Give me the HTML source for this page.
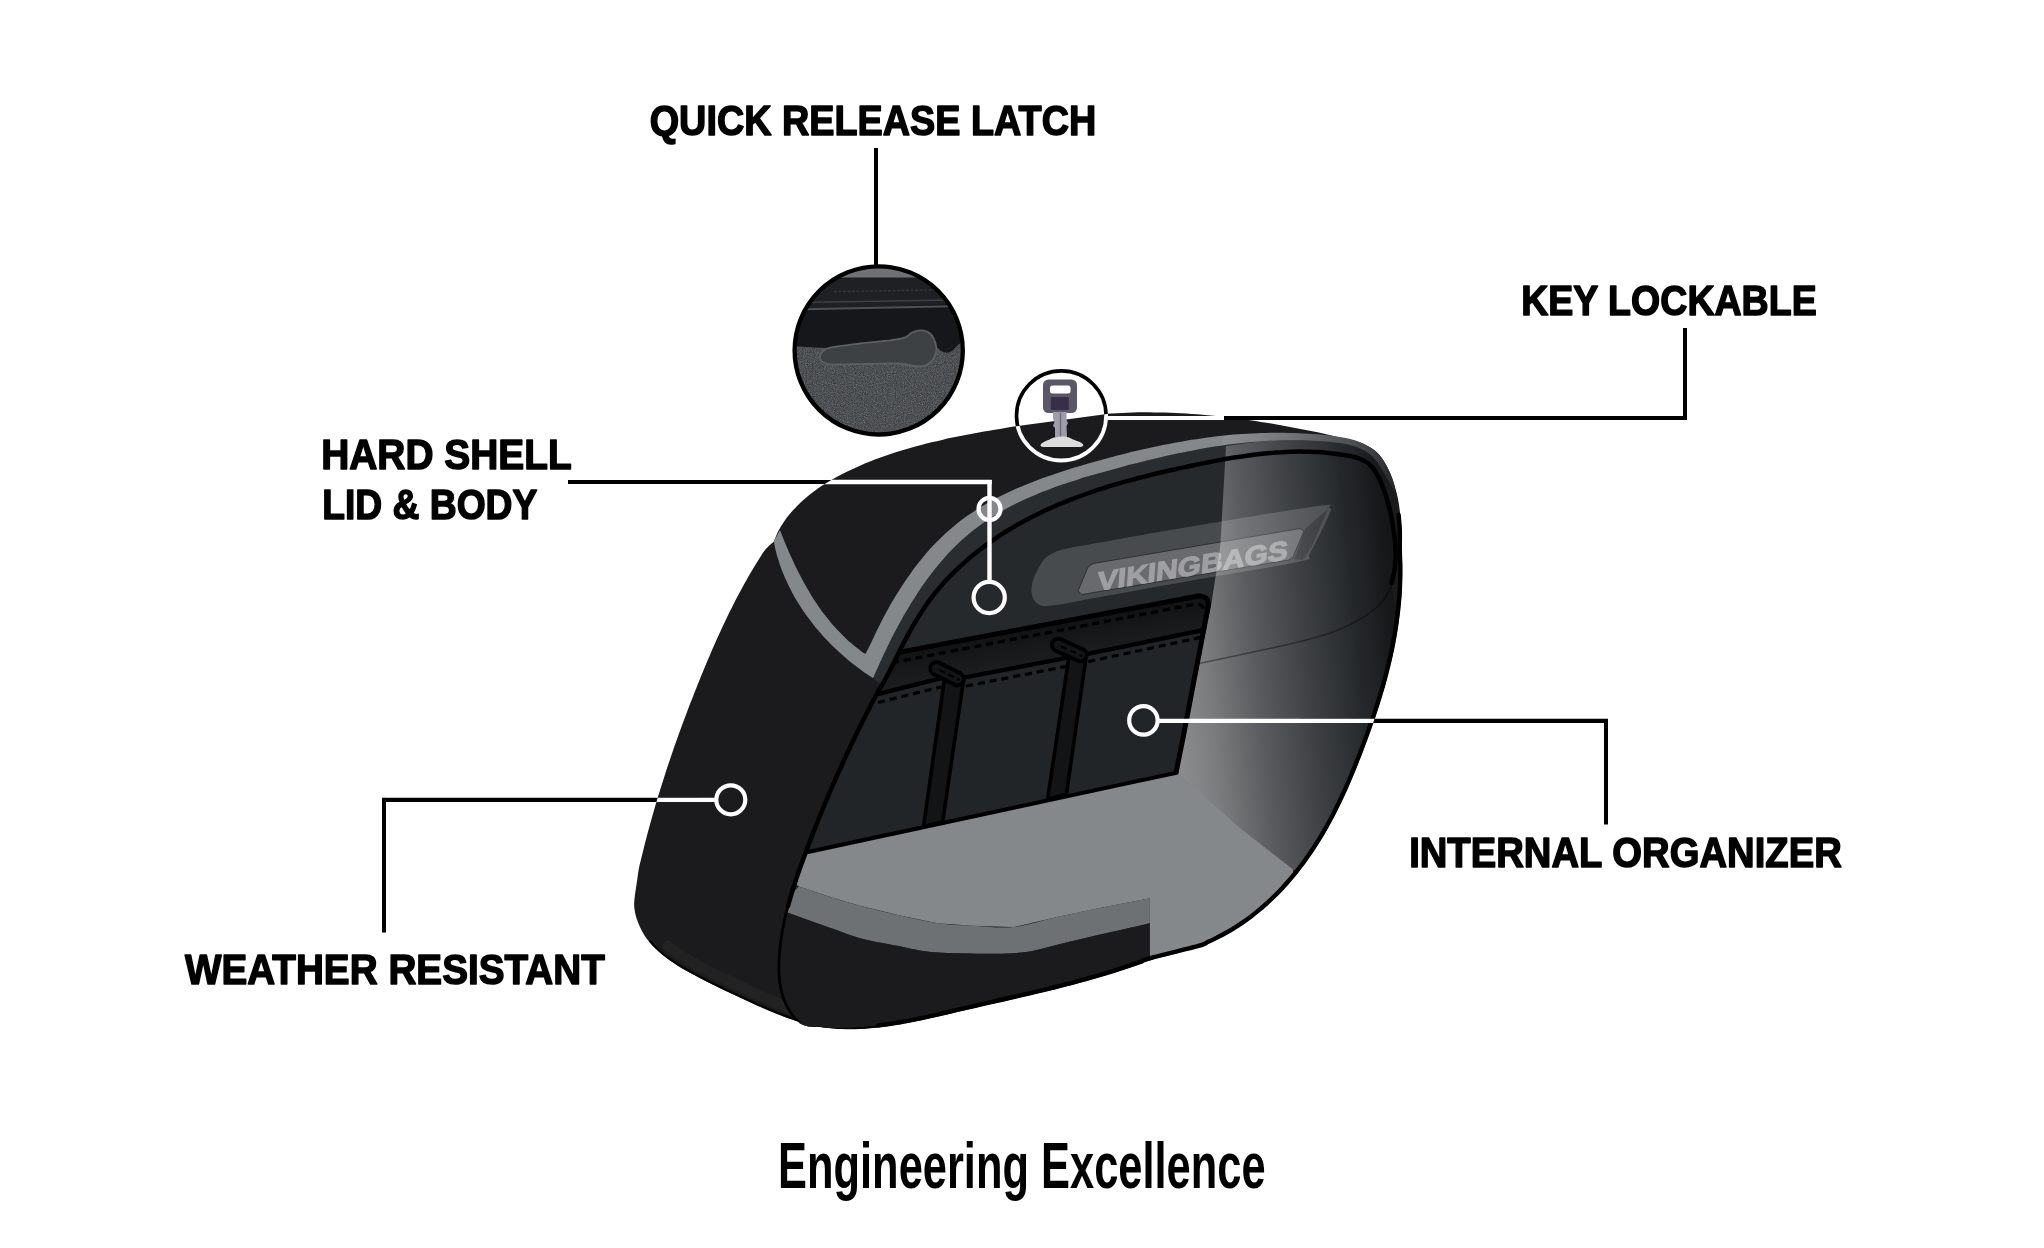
<!DOCTYPE html>
<html lang="en"><head><meta charset="utf-8"><title>Engineering Excellence</title>
<style>
html,body{margin:0;padding:0;background:#fff;}
body{width:2044px;height:1248px;overflow:hidden;font-family:"Liberation Sans",sans-serif;}
svg{display:block;will-change:transform;}
</style></head><body>
<svg width="2044" height="1248" viewBox="0 0 2044 1248">
<defs>
<linearGradient id="pw" gradientUnits="userSpaceOnUse" x1="1170" y1="700" x2="1420" y2="675">
<stop offset="0" stop-color="#fff" stop-opacity="0.47"/><stop offset="0.156" stop-color="#fff" stop-opacity="0.39"/><stop offset="0.352" stop-color="#fff" stop-opacity="0.238"/><stop offset="0.548" stop-color="#fff" stop-opacity="0.117"/><stop offset="0.704" stop-color="#fff" stop-opacity="0.033"/><stop offset="0.763" stop-color="#fff" stop-opacity="0"/>
</linearGradient>
<linearGradient id="pb" gradientUnits="userSpaceOnUse" x1="1170" y1="700" x2="1420" y2="675">
<stop offset="0.74" stop-color="#000" stop-opacity="0"/><stop offset="0.82" stop-color="#000" stop-opacity="0.15"/><stop offset="0.9" stop-color="#000" stop-opacity="0.41"/><stop offset="0.98" stop-color="#000" stop-opacity="0.51"/>
</linearGradient>
<linearGradient id="stripefade" gradientUnits="userSpaceOnUse" x1="1226" y1="430" x2="1396" y2="480">
<stop offset="0" stop-color="#84888b"/><stop offset="0.001" stop-color="#8a8e91"/><stop offset="0.2" stop-color="#7f8386"/><stop offset="0.376" stop-color="#6e7275"/><stop offset="0.553" stop-color="#5c5f62"/><stop offset="0.706" stop-color="#4c4f52"/><stop offset="0.847" stop-color="#3a3c3f"/><stop offset="0.965" stop-color="#292b2d"/>
</linearGradient>
<linearGradient id="flapg" gradientUnits="userSpaceOnUse" x1="1040" y1="615" x2="1048" y2="660">
<stop offset="0" stop-color="#0e0f10"/><stop offset="1" stop-color="#1b1d1f"/>
</linearGradient>
<clipPath id="bagclip"><path d="M774.0 541.0 C775.2 538.8 776.7 534.3 778.3 531.1 C779.9 527.9 781.8 524.8 783.8 521.9 C785.7 519.0 787.9 516.2 790.2 513.5 C792.4 510.8 794.9 508.2 797.3 505.7 C799.8 503.2 802.4 500.8 805.1 498.4 C807.8 496.1 810.6 493.9 813.5 491.8 C816.3 489.6 819.3 487.6 822.2 485.6 C825.2 483.7 828.3 481.8 831.4 479.9 C834.5 478.1 837.7 476.4 840.9 474.7 C844.1 473.0 847.4 471.4 850.6 469.9 C853.9 468.3 857.2 466.9 860.5 465.4 C863.8 464.0 867.1 462.6 870.5 461.3 C873.8 460.0 877.1 458.7 880.5 457.5 C883.9 456.3 887.2 455.1 890.6 454.0 C894.0 452.8 897.4 451.7 900.8 450.7 C904.2 449.6 907.6 448.6 911.0 447.7 C914.4 446.7 917.9 445.8 921.3 444.9 C924.8 444.0 928.2 443.1 931.7 442.3 C935.1 441.5 938.6 440.7 942.0 439.9 C945.5 439.1 949.0 438.3 952.5 437.6 C956.0 436.9 959.5 436.2 963.0 435.5 C966.5 434.8 970.0 434.1 973.5 433.5 C977.0 432.8 980.5 432.2 984.0 431.6 C987.5 430.9 991.0 430.3 994.6 429.7 C998.1 429.1 1001.6 428.5 1005.1 427.9 C1008.7 427.3 1012.2 426.7 1015.7 426.2 C1019.3 425.6 1022.8 425.0 1026.3 424.4 C1029.9 423.8 1033.4 423.2 1037.0 422.7 C1040.5 422.1 1044.0 421.5 1047.6 421.0 C1051.1 420.5 1054.7 419.9 1058.2 419.4 C1061.8 418.9 1065.3 418.4 1068.9 417.9 C1072.4 417.4 1076.0 417.0 1079.5 416.6 C1083.1 416.1 1086.6 415.7 1090.2 415.3 C1093.7 415.0 1097.3 414.6 1100.8 414.3 C1104.4 414.0 1108.0 413.7 1111.5 413.5 C1115.1 413.3 1118.7 413.1 1122.2 412.9 C1125.8 412.7 1129.3 412.6 1132.9 412.5 C1136.5 412.4 1140.0 412.4 1143.6 412.3 C1147.2 412.3 1150.8 412.3 1154.3 412.4 C1157.9 412.4 1161.5 412.5 1165.0 412.6 C1168.6 412.7 1172.2 412.8 1175.7 413.0 C1179.3 413.1 1182.9 413.3 1186.4 413.5 C1190.0 413.8 1193.5 414.0 1197.1 414.3 C1200.7 414.6 1204.2 414.9 1207.8 415.2 C1211.3 415.5 1214.9 415.9 1218.5 416.2 C1222.0 416.6 1225.6 417.0 1229.1 417.4 C1232.7 417.9 1236.2 418.3 1239.7 418.8 C1243.3 419.3 1246.8 419.8 1250.3 420.3 C1253.9 420.8 1257.4 421.3 1260.9 421.9 C1264.5 422.4 1268.0 423.0 1271.5 423.6 C1275.0 424.2 1278.6 424.8 1282.1 425.4 C1285.6 426.0 1289.1 426.7 1292.6 427.4 C1296.1 428.0 1299.6 428.7 1303.1 429.4 C1306.6 430.1 1310.1 430.8 1313.6 431.6 C1317.1 432.3 1320.6 433.1 1324.1 433.8 C1327.6 434.6 1331.1 435.4 1334.6 436.2 C1338.1 437.0 1341.6 437.7 1345.1 438.6 C1348.6 439.4 1352.1 440.2 1355.5 441.2 C1358.9 442.2 1362.3 443.3 1365.4 444.7 C1368.6 446.2 1371.6 447.8 1374.3 450.0 C1377.1 452.1 1379.5 454.8 1381.7 457.7 C1383.9 460.6 1385.8 464.1 1387.5 467.5 C1389.2 470.8 1390.7 474.4 1392.0 477.8 C1393.3 481.2 1394.4 484.6 1395.3 487.9 C1396.3 491.3 1397.1 494.7 1397.8 498.1 C1398.5 501.5 1399.0 504.9 1399.5 508.4 C1400.0 511.8 1400.4 515.3 1400.7 518.9 C1401.0 522.5 1401.4 525.7 1401.5 530.0 C1401.6 534.3 1401.6 540.8 1401.6 545.0 C1401.6 549.2 1401.6 551.7 1401.7 555.1 C1401.8 558.5 1402.0 561.9 1402.1 565.3 C1402.1 568.7 1402.1 572.1 1402.1 575.5 C1402.0 578.9 1402.0 582.2 1401.8 585.6 C1401.7 589.0 1401.5 592.3 1401.3 595.7 C1401.0 599.0 1400.8 602.4 1400.4 605.7 C1400.1 609.0 1399.8 612.4 1399.3 615.7 C1398.9 619.0 1398.5 622.3 1398.0 625.6 C1397.5 628.9 1397.0 632.2 1396.4 635.5 C1395.9 638.8 1395.2 642.1 1394.6 645.4 C1394.0 648.7 1393.3 651.9 1392.6 655.2 C1391.9 658.5 1391.1 661.7 1390.3 665.0 C1389.5 668.2 1388.7 671.4 1387.9 674.7 C1387.0 677.9 1386.2 681.1 1385.3 684.4 C1384.4 687.6 1383.4 690.8 1382.5 694.0 C1381.5 697.2 1380.5 700.4 1379.5 703.6 C1378.5 706.8 1377.5 710.0 1376.4 713.2 C1375.3 716.4 1374.3 719.6 1373.2 722.7 C1372.1 725.9 1370.9 729.1 1369.8 732.3 C1368.7 735.4 1367.5 738.6 1366.3 741.7 C1365.2 744.9 1364.0 748.0 1362.8 751.2 C1361.6 754.3 1360.4 757.5 1359.1 760.6 C1357.9 763.8 1356.7 766.9 1355.4 770.0 C1354.1 773.1 1352.8 776.2 1351.5 779.3 C1350.2 782.4 1348.9 785.5 1347.5 788.6 C1346.1 791.7 1344.7 794.8 1343.3 797.8 C1341.9 800.9 1340.4 803.9 1338.9 806.9 C1337.4 809.9 1335.9 812.9 1334.4 815.9 C1332.8 818.9 1331.2 821.9 1329.6 824.8 C1327.9 827.8 1326.3 830.7 1324.6 833.6 C1322.8 836.5 1321.1 839.4 1319.3 842.2 C1317.5 845.1 1315.7 847.9 1313.9 850.7 C1312.0 853.5 1310.1 856.3 1308.1 859.0 C1306.2 861.7 1304.2 864.4 1302.2 867.1 C1300.2 869.7 1298.1 872.4 1296.0 875.0 C1293.9 877.5 1291.7 880.1 1289.5 882.6 C1287.3 885.1 1285.1 887.6 1282.8 890.0 C1280.5 892.4 1278.2 894.8 1275.8 897.1 C1273.4 899.5 1271.0 901.7 1268.5 904.0 C1266.1 906.2 1263.6 908.4 1261.0 910.5 C1258.4 912.7 1255.8 914.7 1253.2 916.8 C1250.5 918.8 1247.8 920.8 1245.0 922.7 C1242.3 924.6 1239.5 926.4 1236.6 928.2 C1233.7 930.0 1230.8 931.8 1227.9 933.4 C1224.9 935.1 1221.9 936.7 1218.8 938.2 C1215.8 939.8 1212.6 941.3 1209.5 942.6 C1206.4 944.0 1210.1 943.6 1200.2 946.5 C1190.3 949.4 1159.9 957.5 1150.1 960.3 C1140.3 963.1 1144.4 962.5 1141.4 963.6 C1138.5 964.6 1135.5 965.7 1132.5 966.7 C1129.5 967.7 1126.6 968.7 1123.6 969.7 C1120.6 970.7 1117.6 971.6 1114.7 972.6 C1111.7 973.5 1108.7 974.4 1105.8 975.3 C1102.8 976.2 1099.8 977.1 1096.9 977.9 C1093.9 978.8 1090.9 979.7 1087.9 980.5 C1085.0 981.3 1082.0 982.1 1079.0 982.9 C1076.1 983.8 1073.1 984.5 1070.1 985.3 C1067.1 986.1 1064.2 986.9 1061.2 987.6 C1058.2 988.4 1055.2 989.1 1052.2 989.9 C1049.3 990.6 1046.3 991.3 1043.3 992.1 C1040.3 992.8 1037.3 993.5 1034.3 994.2 C1031.3 994.9 1028.3 995.6 1025.3 996.3 C1022.3 997.0 1019.3 997.7 1016.3 998.4 C1013.3 999.1 1010.3 999.8 1007.3 1000.5 C1004.3 1001.2 1001.3 1001.9 998.3 1002.5 C995.2 1003.2 992.2 1003.9 989.2 1004.6 C986.2 1005.3 983.1 1006.0 980.1 1006.7 C977.0 1007.4 974.0 1008.1 970.9 1008.8 C967.9 1009.5 964.8 1010.2 961.8 1010.9 C958.7 1011.6 955.7 1012.3 952.6 1013.0 C949.5 1013.8 946.4 1014.5 943.4 1015.2 C940.3 1015.9 937.2 1016.6 934.1 1017.3 C931.0 1018.0 927.9 1018.7 924.8 1019.4 C921.7 1020.1 918.7 1020.7 915.6 1021.3 C912.5 1022.0 909.4 1022.6 906.3 1023.2 C903.2 1023.7 900.1 1024.3 897.0 1024.8 C893.9 1025.3 890.8 1025.8 887.7 1026.3 C884.7 1026.7 881.6 1027.1 878.5 1027.4 C875.4 1027.8 872.3 1028.1 869.3 1028.3 C866.2 1028.6 863.1 1028.8 860.1 1028.9 C857.0 1029.1 854.0 1029.2 850.9 1029.2 C847.9 1029.2 844.8 1029.1 841.8 1029.0 C838.8 1028.9 835.8 1028.7 832.8 1028.4 C829.7 1028.2 826.7 1027.8 823.7 1027.4 C820.8 1026.9 817.8 1026.4 814.8 1025.8 C811.8 1025.2 808.9 1024.5 805.9 1023.8 C803.0 1023.0 800.0 1022.1 797.1 1021.2 C794.2 1020.3 791.3 1019.3 788.3 1018.3 C785.4 1017.3 782.5 1016.2 779.6 1015.0 C776.7 1013.9 773.8 1012.7 771.0 1011.5 C768.1 1010.3 765.2 1009.0 762.3 1007.7 C759.5 1006.5 756.6 1005.2 753.7 1003.9 C750.9 1002.6 748.0 1001.2 745.1 999.9 C742.3 998.6 739.4 997.3 736.6 996.0 C733.7 994.6 730.8 993.3 728.0 992.0 C725.2 990.6 722.3 989.3 719.5 987.9 C716.6 986.5 713.8 985.2 711.0 983.8 C708.2 982.4 705.4 981.0 702.6 979.5 C699.8 978.1 697.0 976.6 694.2 975.1 C691.4 973.6 688.7 972.1 685.9 970.5 C683.2 969.0 680.5 967.4 677.8 965.7 C675.2 964.0 672.6 962.3 670.1 960.6 C667.6 958.8 665.1 956.9 662.7 955.0 C660.4 953.1 658.1 951.1 656.0 949.0 C653.8 947.0 651.8 944.8 649.9 942.5 C648.0 940.3 646.2 937.9 644.5 935.4 C642.9 932.9 641.4 930.4 640.2 927.6 C638.9 924.9 637.7 922.1 636.8 919.1 C635.9 916.2 635.0 913.0 634.6 909.8 C634.2 906.6 633.9 905.4 634.4 900.0 C634.9 894.6 636.8 882.9 637.5 877.7 C638.2 872.5 638.3 871.8 638.8 868.9 C639.3 866.0 640.1 863.1 640.8 860.3 C641.5 857.4 642.2 854.6 642.9 851.7 C643.6 848.9 644.3 846.0 645.0 843.2 C645.7 840.4 646.5 837.5 647.2 834.7 C648.0 831.8 648.7 829.0 649.5 826.2 C650.3 823.3 651.1 820.5 651.9 817.7 C652.7 814.8 653.5 812.0 654.3 809.2 C655.1 806.4 656.0 803.6 656.8 800.7 C657.6 797.9 658.5 795.1 659.4 792.3 C660.2 789.5 661.1 786.7 662.0 783.9 C662.9 781.1 663.8 778.2 664.7 775.4 C665.6 772.6 666.5 769.8 667.4 767.0 C668.3 764.3 669.3 761.5 670.2 758.7 C671.2 755.9 672.1 753.1 673.1 750.3 C674.1 747.5 675.0 744.7 676.0 742.0 C677.0 739.2 678.0 736.4 679.0 733.6 C680.0 730.9 681.0 728.1 682.0 725.3 C683.0 722.6 684.1 719.8 685.1 717.0 C686.1 714.3 687.2 711.5 688.2 708.7 C689.3 706.0 690.3 703.2 691.4 700.5 C692.5 697.7 693.6 695.0 694.6 692.2 C695.7 689.5 696.8 686.8 697.9 684.0 C699.0 681.3 700.1 678.6 701.2 675.8 C702.4 673.1 703.5 670.4 704.6 667.6 C705.7 664.9 706.9 662.2 708.0 659.5 C709.2 656.8 710.3 654.1 711.5 651.3 C712.7 648.6 713.8 645.9 715.0 643.2 C716.2 640.6 717.4 637.9 718.6 635.2 C719.9 632.5 721.1 629.8 722.3 627.2 C723.6 624.5 724.8 621.8 726.1 619.2 C727.4 616.5 728.6 613.9 729.9 611.3 C731.3 608.6 732.6 606.0 733.9 603.4 C735.2 600.8 736.6 598.2 738.0 595.6 C739.3 593.0 740.7 590.4 742.1 587.9 C743.5 585.3 744.9 582.7 746.4 580.2 C747.8 577.6 749.3 575.1 750.8 572.6 C752.3 570.1 753.8 567.6 755.3 565.1 C756.9 562.6 758.4 560.1 760.0 557.6 C761.6 555.2 762.9 552.5 764.8 550.3 C766.6 548.0 769.5 545.5 771.0 544.0 C772.5 542.5 772.8 543.2 774.0 541.0Z"/></clipPath>
<clipPath id="faceclip"><path id="facepath" d="M882.0 685.0 C882.7 683.7 885.0 679.9 886.4 677.3 C887.8 674.6 889.0 672.0 890.4 669.3 C891.7 666.7 893.0 664.0 894.4 661.4 C895.7 658.7 897.0 656.0 898.3 653.4 C899.7 650.7 901.0 648.1 902.4 645.5 C903.8 642.8 905.1 640.2 906.5 637.6 C907.9 635.0 909.4 632.4 910.8 629.8 C912.2 627.2 913.7 624.6 915.2 622.1 C916.7 619.5 918.3 617.0 919.9 614.5 C921.4 612.0 923.1 609.5 924.7 607.1 C926.4 604.6 928.1 602.2 929.9 599.8 C931.6 597.4 933.4 595.1 935.3 592.8 C937.2 590.5 939.1 588.2 941.0 585.9 C943.0 583.7 945.0 581.5 947.0 579.3 C949.1 577.1 951.2 575.0 953.3 572.9 C955.4 570.7 957.6 568.7 959.8 566.6 C962.0 564.6 964.2 562.6 966.5 560.6 C968.7 558.7 971.0 556.7 973.4 554.8 C975.7 553.0 978.0 551.1 980.4 549.3 C982.8 547.5 985.2 545.7 987.6 543.9 C990.0 542.2 992.4 540.5 994.9 538.8 C997.3 537.2 999.8 535.5 1002.3 533.9 C1004.8 532.3 1007.3 530.8 1009.8 529.3 C1012.3 527.7 1014.9 526.2 1017.4 524.8 C1020.0 523.3 1022.6 521.9 1025.2 520.5 C1027.8 519.1 1030.4 517.8 1033.0 516.4 C1035.6 515.1 1038.3 513.8 1040.9 512.5 C1043.6 511.2 1046.2 510.0 1048.9 508.8 C1051.6 507.6 1054.3 506.4 1057.0 505.2 C1059.7 504.1 1062.4 502.9 1065.2 501.8 C1067.9 500.7 1070.6 499.6 1073.4 498.6 C1076.2 497.5 1078.9 496.5 1081.7 495.5 C1084.5 494.5 1087.3 493.5 1090.1 492.5 C1092.9 491.6 1095.7 490.6 1098.5 489.7 C1101.3 488.8 1104.2 487.9 1107.0 487.0 C1109.8 486.1 1112.7 485.3 1115.5 484.4 C1118.4 483.6 1121.2 482.7 1124.1 481.9 C1127.0 481.1 1129.9 480.3 1132.7 479.6 C1135.6 478.8 1138.5 478.0 1141.4 477.3 C1144.3 476.5 1147.2 475.8 1150.1 475.1 C1153.0 474.4 1155.9 473.7 1158.8 473.0 C1161.7 472.3 1164.7 471.6 1167.6 470.9 C1170.5 470.3 1173.4 469.6 1176.3 469.0 C1179.3 468.3 1182.2 467.7 1185.1 467.1 C1188.1 466.4 1191.0 465.8 1193.9 465.2 C1196.9 464.6 1199.8 464.0 1202.7 463.4 C1205.7 462.8 1208.6 462.2 1211.6 461.6 C1214.5 461.1 1217.4 460.5 1220.4 460.0 C1223.3 459.4 1226.3 458.9 1229.2 458.4 C1232.1 457.9 1235.1 457.4 1238.0 457.0 C1241.0 456.5 1243.9 456.1 1246.9 455.7 C1249.8 455.3 1252.7 454.9 1255.7 454.5 C1258.6 454.2 1261.6 453.9 1264.5 453.6 C1267.5 453.3 1270.4 453.0 1273.4 452.8 C1276.3 452.5 1279.2 452.3 1282.2 452.2 C1285.1 452.0 1288.1 451.9 1291.0 451.8 C1294.0 451.7 1296.9 451.6 1299.9 451.6 C1302.8 451.6 1305.7 451.7 1308.7 451.7 C1311.6 451.8 1314.6 451.9 1317.5 452.1 C1320.5 452.3 1323.4 452.5 1326.3 452.8 C1329.3 453.0 1332.2 453.4 1335.1 453.7 C1338.1 454.1 1341.0 454.5 1343.9 455.0 C1346.9 455.5 1349.9 455.9 1352.7 456.7 C1355.5 457.4 1358.4 458.1 1361.0 459.2 C1363.6 460.4 1366.1 461.7 1368.4 463.4 C1370.6 465.2 1372.5 467.4 1374.3 469.9 C1376.0 472.3 1377.5 475.2 1378.9 478.0 C1380.3 480.7 1381.5 483.7 1382.7 486.6 C1383.8 489.4 1384.9 492.3 1385.8 495.2 C1386.8 498.1 1387.6 501.0 1388.4 503.9 C1389.2 506.8 1389.9 509.7 1390.5 512.6 C1391.2 515.5 1391.7 518.4 1392.2 521.3 C1392.8 524.3 1393.2 527.2 1393.6 530.1 C1394.1 533.0 1394.4 536.0 1394.7 538.9 C1395.0 541.8 1395.3 544.8 1395.5 547.7 C1395.6 550.7 1395.7 553.6 1395.6 556.6 C1395.6 559.5 1395.4 562.4 1395.1 565.4 C1394.8 568.3 1394.4 571.3 1393.8 574.2 C1393.2 577.2 1392.0 581.5 1391.6 583.0L1397.0 615.2 C1396.2 621.5 1394.2 640.2 1392.0 652.7 C1389.8 665.2 1387.0 678.6 1383.5 690.0 C1380.0 701.4 1374.6 711.9 1370.8 721.3 C1367.0 730.7 1364.5 736.6 1360.8 746.4 C1357.0 756.2 1352.5 769.6 1348.3 780.2 C1344.1 790.8 1339.5 801.9 1335.8 810.2 C1332.1 818.5 1330.1 823.0 1326.0 830.0 C1321.9 837.0 1316.6 844.8 1311.0 852.5 C1305.4 860.2 1298.5 869.2 1292.3 876.5 C1286.0 883.8 1280.7 889.4 1273.5 896.0 C1266.3 902.6 1257.2 909.8 1249.0 916.0 C1240.8 922.2 1232.2 928.8 1224.0 933.5 C1215.8 938.2 1211.8 940.4 1199.5 944.5 C1187.2 948.6 1164.0 953.9 1150.1 958.3 C1136.2 962.7 1124.3 968.0 1116.0 970.7 C1107.7 973.4 1109.3 972.0 1100.0 974.5 C1090.7 977.0 1075.4 981.8 1060.4 985.7 C1045.5 989.7 1027.0 994.2 1010.3 998.2 C993.6 1002.2 976.9 1006.0 960.2 1009.5 C943.5 1013.0 924.1 1016.9 910.1 1019.5 C896.1 1022.1 884.7 1023.8 876.0 1025.1 C867.3 1026.3 865.2 1026.6 858.0 1027.0 C850.8 1027.4 840.2 1027.6 832.9 1027.6 C825.6 1027.6 817.2 1027.1 814.1 1027.0L807.9 1026.5 C806.8 1026.1 803.0 1025.2 801.0 1024.1 C799.1 1022.9 797.7 1021.0 796.2 1019.4 C794.7 1017.8 793.3 1016.2 792.0 1014.5 C790.7 1012.7 789.6 1011.0 788.5 1009.1 C787.4 1007.3 786.5 1005.5 785.6 1003.5 C784.8 1001.6 784.0 999.7 783.3 997.7 C782.7 995.7 782.1 993.6 781.6 991.6 C781.1 989.5 780.6 987.4 780.3 985.3 C779.9 983.1 779.7 981.0 779.4 978.8 C779.2 976.6 779.1 974.4 779.0 972.2 C778.9 970.0 778.9 967.8 778.9 965.6 C778.9 963.3 779.0 961.1 779.1 958.9 C779.2 956.6 779.4 954.4 779.6 952.1 C779.8 949.9 780.0 947.7 780.3 945.4 C780.5 943.2 780.8 941.0 781.1 938.8 C781.5 936.5 781.8 934.3 782.2 932.1 C782.6 929.9 783.0 927.7 783.4 925.5 C783.9 923.3 784.4 921.1 784.8 918.9 C785.3 916.7 785.8 914.6 786.4 912.4 C786.9 910.2 787.5 908.0 788.1 905.9 C788.6 903.7 789.2 901.5 789.9 899.4 C790.5 897.2 791.1 895.1 791.8 892.9 C792.4 890.8 793.1 888.6 793.8 886.5 C794.5 884.3 795.2 882.2 795.9 880.1 C796.6 877.9 797.3 875.8 798.0 873.7 C798.8 871.6 799.5 869.4 800.3 867.3 C801.0 865.2 801.8 863.1 802.6 861.0 C803.3 858.9 804.1 856.8 804.9 854.7 C805.7 852.6 806.5 850.5 807.2 848.4 C808.0 846.3 808.8 844.2 809.6 842.1 C810.4 840.1 811.2 838.0 812.0 835.9 C812.8 833.8 813.6 831.7 814.5 829.7 C815.3 827.6 816.1 825.5 816.9 823.5 C817.7 821.4 818.6 819.4 819.4 817.3 C820.2 815.3 821.1 813.2 821.9 811.2 C822.7 809.1 823.6 807.1 824.4 805.0 C825.3 803.0 826.1 800.9 827.0 798.9 C827.9 796.9 828.7 794.8 829.6 792.8 C830.5 790.8 831.3 788.7 832.2 786.7 C833.1 784.7 834.0 782.7 834.9 780.6 C835.8 778.6 836.6 776.6 837.5 774.6 C838.4 772.6 839.3 770.5 840.3 768.5 C841.2 766.5 842.1 764.5 843.0 762.5 C843.9 760.5 844.8 758.5 845.8 756.5 C846.7 754.5 847.6 752.5 848.6 750.5 C849.5 748.5 850.5 746.4 851.4 744.4 C852.4 742.4 853.3 740.4 854.3 738.4 C855.2 736.5 856.2 734.5 857.2 732.5 C858.2 730.5 859.1 728.5 860.1 726.5 C861.1 724.5 862.1 722.5 863.1 720.5 C864.1 718.5 865.1 716.5 866.1 714.5 C867.1 712.5 868.1 710.5 869.2 708.5 C870.2 706.5 871.2 704.6 872.2 702.6 C873.3 700.6 874.3 698.6 875.4 696.6 C876.4 694.6 877.4 692.6 878.5 690.6 C879.6 688.7 881.4 685.9 882.0 685.0Z"/></clipPath>
<filter id="grain" x="0" y="0" width="100%" height="100%"><feTurbulence type="fractalNoise" baseFrequency="0.9" numOctaves="2" seed="3" result="n"/><feColorMatrix in="n" type="matrix" values="0 0 0 0 0.5  0 0 0 0 0.52  0 0 0 0 0.54  0.9 0.9 0.9 0 -1.0"/></filter>
<clipPath id="latchclip"><circle cx="878.7" cy="350.4" r="84.2"/></clipPath>
<clipPath id="keyclip"><circle cx="1061.3" cy="415.7" r="44.8"/></clipPath>
<clipPath id="panelshape"><path d="M882.0 685.0 C882.7 683.7 885.0 679.9 886.4 677.3 C887.8 674.6 889.0 672.0 890.4 669.3 C891.7 666.7 893.0 664.0 894.4 661.4 C895.7 658.7 897.0 656.0 898.3 653.4 C899.7 650.7 901.0 648.1 902.4 645.5 C903.8 642.8 905.1 640.2 906.5 637.6 C907.9 635.0 909.4 632.4 910.8 629.8 C912.2 627.2 913.7 624.6 915.2 622.1 C916.7 619.5 918.3 617.0 919.9 614.5 C921.4 612.0 923.1 609.5 924.7 607.1 C926.4 604.6 928.1 602.2 929.9 599.8 C931.6 597.4 933.4 595.1 935.3 592.8 C937.2 590.5 939.1 588.2 941.0 585.9 C943.0 583.7 945.0 581.5 947.0 579.3 C949.1 577.1 951.2 575.0 953.3 572.9 C955.4 570.7 957.6 568.7 959.8 566.6 C962.0 564.6 964.2 562.6 966.5 560.6 C968.7 558.7 971.0 556.7 973.4 554.8 C975.7 553.0 978.0 551.1 980.4 549.3 C982.8 547.5 985.2 545.7 987.6 543.9 C990.0 542.2 992.4 540.5 994.9 538.8 C997.3 537.2 999.8 535.5 1002.3 533.9 C1004.8 532.3 1007.3 530.8 1009.8 529.3 C1012.3 527.7 1014.9 526.2 1017.4 524.8 C1020.0 523.3 1022.6 521.9 1025.2 520.5 C1027.8 519.1 1030.4 517.8 1033.0 516.4 C1035.6 515.1 1038.3 513.8 1040.9 512.5 C1043.6 511.2 1046.2 510.0 1048.9 508.8 C1051.6 507.6 1054.3 506.4 1057.0 505.2 C1059.7 504.1 1062.4 502.9 1065.2 501.8 C1067.9 500.7 1070.6 499.6 1073.4 498.6 C1076.2 497.5 1078.9 496.5 1081.7 495.5 C1084.5 494.5 1087.3 493.5 1090.1 492.5 C1092.9 491.6 1095.7 490.6 1098.5 489.7 C1101.3 488.8 1104.2 487.9 1107.0 487.0 C1109.8 486.1 1112.7 485.3 1115.5 484.4 C1118.4 483.6 1121.2 482.7 1124.1 481.9 C1127.0 481.1 1129.9 480.3 1132.7 479.6 C1135.6 478.8 1138.5 478.0 1141.4 477.3 C1144.3 476.5 1147.2 475.8 1150.1 475.1 C1153.0 474.4 1155.9 473.7 1158.8 473.0 C1161.7 472.3 1164.7 471.6 1167.6 470.9 C1170.5 470.3 1173.4 469.6 1176.3 469.0 C1179.3 468.3 1182.2 467.7 1185.1 467.1 C1188.1 466.4 1191.0 465.8 1193.9 465.2 C1196.9 464.6 1199.8 464.0 1202.7 463.4 C1205.7 462.8 1208.6 462.2 1211.6 461.6 C1214.5 461.1 1217.4 460.5 1220.4 460.0 C1223.3 459.4 1226.3 458.9 1229.2 458.4 C1232.1 457.9 1235.1 457.4 1238.0 457.0 C1241.0 456.5 1243.9 456.1 1246.9 455.7 C1249.8 455.3 1252.7 454.9 1255.7 454.5 C1258.6 454.2 1261.6 453.9 1264.5 453.6 C1267.5 453.3 1270.4 453.0 1273.4 452.8 C1276.3 452.5 1279.2 452.3 1282.2 452.2 C1285.1 452.0 1288.1 451.9 1291.0 451.8 C1294.0 451.7 1296.9 451.6 1299.9 451.6 C1302.8 451.6 1305.7 451.7 1308.7 451.7 C1311.6 451.8 1314.6 451.9 1317.5 452.1 C1320.5 452.3 1323.4 452.5 1326.3 452.8 C1329.3 453.0 1332.2 453.4 1335.1 453.7 C1338.1 454.1 1341.0 454.5 1343.9 455.0 C1346.9 455.5 1349.9 455.9 1352.7 456.7 C1355.5 457.4 1358.4 458.1 1361.0 459.2 C1363.6 460.4 1366.1 461.7 1368.4 463.4 C1370.6 465.2 1372.5 467.4 1374.3 469.9 C1376.0 472.3 1377.5 475.2 1378.9 478.0 C1380.3 480.7 1381.5 483.7 1382.7 486.6 C1383.8 489.4 1384.9 492.3 1385.8 495.2 C1386.8 498.1 1387.6 501.0 1388.4 503.9 C1389.2 506.8 1389.9 509.7 1390.5 512.6 C1391.2 515.5 1391.7 518.4 1392.2 521.3 C1392.8 524.3 1393.2 527.2 1393.6 530.1 C1394.1 533.0 1394.4 536.0 1394.7 538.9 C1395.0 541.8 1395.3 544.8 1395.5 547.7 C1395.6 550.7 1395.7 553.6 1395.6 556.6 C1395.6 559.5 1395.4 562.4 1395.1 565.4 C1394.8 568.3 1394.4 571.3 1393.8 574.2 C1393.2 577.2 1392.0 581.5 1391.6 583.0L1397.0 615.2 C1396.2 621.5 1394.2 640.2 1392.0 652.7 C1389.8 665.2 1387.0 678.6 1383.5 690.0 C1380.0 701.4 1374.6 711.9 1370.8 721.3 C1367.0 730.7 1364.5 736.6 1360.8 746.4 C1357.0 756.2 1352.5 769.6 1348.3 780.2 C1344.1 790.8 1339.5 801.9 1335.8 810.2 C1332.1 818.5 1330.1 823.0 1326.0 830.0 C1321.9 837.0 1316.6 844.8 1311.0 852.5 C1305.4 860.2 1298.5 869.2 1292.3 876.5 C1286.0 883.8 1280.7 889.4 1273.5 896.0 C1266.3 902.6 1257.2 909.8 1249.0 916.0 C1240.8 922.2 1232.2 928.8 1224.0 933.5 C1215.8 938.2 1211.8 940.4 1199.5 944.5 C1187.2 948.6 1164.0 953.9 1150.1 958.3 C1136.2 962.7 1124.3 968.0 1116.0 970.7 C1107.7 973.4 1109.3 972.0 1100.0 974.5 C1090.7 977.0 1075.4 981.8 1060.4 985.7 C1045.5 989.7 1027.0 994.2 1010.3 998.2 C993.6 1002.2 976.9 1006.0 960.2 1009.5 C943.5 1013.0 924.1 1016.9 910.1 1019.5 C896.1 1022.1 884.7 1023.8 876.0 1025.1 C867.3 1026.3 865.2 1026.6 858.0 1027.0 C850.8 1027.4 840.2 1027.6 832.9 1027.6 C825.6 1027.6 817.2 1027.1 814.1 1027.0L807.9 1026.5 C806.8 1026.1 803.0 1025.2 801.0 1024.1 C799.1 1022.9 797.7 1021.0 796.2 1019.4 C794.7 1017.8 793.3 1016.2 792.0 1014.5 C790.7 1012.7 789.6 1011.0 788.5 1009.1 C787.4 1007.3 786.5 1005.5 785.6 1003.5 C784.8 1001.6 784.0 999.7 783.3 997.7 C782.7 995.7 782.1 993.6 781.6 991.6 C781.1 989.5 780.6 987.4 780.3 985.3 C779.9 983.1 779.7 981.0 779.4 978.8 C779.2 976.6 779.1 974.4 779.0 972.2 C778.9 970.0 778.9 967.8 778.9 965.6 C778.9 963.3 779.0 961.1 779.1 958.9 C779.2 956.6 779.4 954.4 779.6 952.1 C779.8 949.9 780.0 947.7 780.3 945.4 C780.5 943.2 780.8 941.0 781.1 938.8 C781.5 936.5 781.8 934.3 782.2 932.1 C782.6 929.9 783.0 927.7 783.4 925.5 C783.9 923.3 784.4 921.1 784.8 918.9 C785.3 916.7 785.8 914.6 786.4 912.4 C786.9 910.2 787.5 908.0 788.1 905.9 C788.6 903.7 789.2 901.5 789.9 899.4 C790.5 897.2 791.1 895.1 791.8 892.9 C792.4 890.8 793.1 888.6 793.8 886.5 C794.5 884.3 795.2 882.2 795.9 880.1 C796.6 877.9 797.3 875.8 798.0 873.7 C798.8 871.6 799.5 869.4 800.3 867.3 C801.0 865.2 801.8 863.1 802.6 861.0 C803.3 858.9 804.1 856.8 804.9 854.7 C805.7 852.6 806.5 850.5 807.2 848.4 C808.0 846.3 808.8 844.2 809.6 842.1 C810.4 840.1 811.2 838.0 812.0 835.9 C812.8 833.8 813.6 831.7 814.5 829.7 C815.3 827.6 816.1 825.5 816.9 823.5 C817.7 821.4 818.6 819.4 819.4 817.3 C820.2 815.3 821.1 813.2 821.9 811.2 C822.7 809.1 823.6 807.1 824.4 805.0 C825.3 803.0 826.1 800.9 827.0 798.9 C827.9 796.9 828.7 794.8 829.6 792.8 C830.5 790.8 831.3 788.7 832.2 786.7 C833.1 784.7 834.0 782.7 834.9 780.6 C835.8 778.6 836.6 776.6 837.5 774.6 C838.4 772.6 839.3 770.5 840.3 768.5 C841.2 766.5 842.1 764.5 843.0 762.5 C843.9 760.5 844.8 758.5 845.8 756.5 C846.7 754.5 847.6 752.5 848.6 750.5 C849.5 748.5 850.5 746.4 851.4 744.4 C852.4 742.4 853.3 740.4 854.3 738.4 C855.2 736.5 856.2 734.5 857.2 732.5 C858.2 730.5 859.1 728.5 860.1 726.5 C861.1 724.5 862.1 722.5 863.1 720.5 C864.1 718.5 865.1 716.5 866.1 714.5 C867.1 712.5 868.1 710.5 869.2 708.5 C870.2 706.5 871.2 704.6 872.2 702.6 C873.3 700.6 874.3 698.6 875.4 696.6 C876.4 694.6 877.4 692.6 878.5 690.6 C879.6 688.7 881.4 685.9 882.0 685.0Z"/><path d="M873.1 678.1 C873.7 676.7 875.6 672.4 876.9 669.6 C878.1 666.8 879.3 664.1 880.6 661.3 C881.8 658.5 883.1 655.8 884.4 653.0 C885.8 650.2 887.1 647.4 888.5 644.6 C889.8 641.9 891.2 639.1 892.6 636.3 C894.1 633.5 895.5 630.7 897.0 628.0 C898.5 625.2 900.0 622.4 901.5 619.7 C903.0 617.0 904.6 614.2 906.2 611.5 C907.8 608.8 909.4 606.1 911.0 603.4 C912.7 600.7 914.4 598.0 916.1 595.4 C917.8 592.7 919.5 590.1 921.3 587.5 C923.1 584.9 924.9 582.4 926.8 579.8 C928.6 577.3 930.5 574.8 932.4 572.3 C934.3 569.8 936.3 567.4 938.3 565.0 C940.2 562.6 942.3 560.2 944.3 557.9 C946.4 555.6 948.5 553.3 950.6 551.1 C952.7 548.9 954.9 546.7 957.1 544.5 C959.3 542.4 961.6 540.3 963.9 538.3 C966.2 536.2 968.5 534.3 970.9 532.3 C973.2 530.4 975.6 528.5 978.1 526.7 C980.5 524.9 983.0 523.1 985.5 521.4 C988.0 519.7 990.6 518.0 993.2 516.4 C995.8 514.8 998.4 513.2 1001.0 511.7 C1003.7 510.2 1006.4 508.7 1009.1 507.3 C1011.8 505.8 1014.5 504.4 1017.3 503.1 C1020.0 501.7 1022.8 500.4 1025.6 499.1 C1028.4 497.8 1031.3 496.6 1034.1 495.4 C1037.0 494.2 1039.9 493.0 1042.8 491.8 C1045.7 490.7 1048.6 489.6 1051.5 488.5 C1054.4 487.4 1057.4 486.3 1060.3 485.3 C1063.3 484.3 1066.3 483.3 1069.2 482.3 C1072.2 481.3 1075.2 480.3 1078.2 479.4 C1081.2 478.4 1084.2 477.5 1087.3 476.6 C1090.3 475.7 1093.3 474.8 1096.3 473.9 C1099.4 473.1 1102.4 472.2 1105.4 471.4 C1108.5 470.5 1111.5 469.7 1114.6 468.9 C1117.6 468.0 1120.6 467.2 1123.7 466.4 C1126.7 465.6 1129.8 464.8 1132.8 464.1 C1135.8 463.3 1138.9 462.5 1141.9 461.7 C1144.9 461.0 1148.0 460.2 1151.0 459.5 C1154.1 458.8 1157.1 458.1 1160.1 457.4 C1163.2 456.7 1166.2 456.0 1169.2 455.3 C1172.3 454.6 1175.3 454.0 1178.4 453.3 C1181.4 452.7 1184.4 452.1 1187.5 451.5 C1190.5 450.9 1193.6 450.3 1196.6 449.7 C1199.7 449.2 1202.7 448.6 1205.7 448.1 C1208.8 447.6 1211.8 447.1 1214.9 446.6 C1217.9 446.2 1221.0 445.7 1224.0 445.3 C1227.1 444.8 1230.2 444.4 1233.2 444.1 C1236.3 443.7 1239.3 443.3 1242.4 443.0 C1245.5 442.7 1248.5 442.4 1251.6 442.1 C1254.7 441.8 1257.7 441.6 1260.8 441.4 C1263.9 441.1 1266.9 441.0 1270.0 440.8 C1273.1 440.6 1276.2 440.5 1279.3 440.4 C1282.4 440.3 1285.4 440.3 1288.5 440.2 C1291.6 440.2 1294.7 440.2 1297.8 440.2 C1300.9 440.3 1304.0 440.3 1307.1 440.4 C1310.3 440.6 1313.4 440.7 1316.5 440.9 C1319.6 441.0 1322.7 441.3 1325.8 441.5 C1329.0 441.8 1332.1 442.0 1335.2 442.4 C1338.3 442.8 1341.4 443.2 1344.4 443.8 C1347.5 444.4 1350.5 445.0 1353.3 445.9 C1356.2 446.8 1359.0 447.9 1361.7 449.2 C1364.3 450.5 1366.9 452.0 1369.2 453.8 C1371.6 455.7 1373.8 457.8 1375.8 460.2 C1377.8 462.6 1379.6 465.4 1381.4 468.2 C1383.2 471.0 1384.7 474.0 1386.3 477.0 C1387.9 479.9 1389.4 483.0 1391.0 485.7 C1392.6 488.4 1395.2 491.8 1396.0 493.0L1361.0 459.2 C1359.6 458.8 1355.5 457.4 1352.7 456.7 C1349.9 455.9 1346.9 455.5 1343.9 455.0 C1341.0 454.5 1338.1 454.1 1335.1 453.7 C1332.2 453.4 1329.3 453.0 1326.3 452.8 C1323.4 452.5 1320.5 452.3 1317.5 452.1 C1314.6 451.9 1311.6 451.8 1308.7 451.7 C1305.7 451.7 1302.8 451.6 1299.9 451.6 C1296.9 451.6 1294.0 451.7 1291.0 451.8 C1288.1 451.9 1285.1 452.0 1282.2 452.2 C1279.2 452.3 1276.3 452.5 1273.4 452.8 C1270.4 453.0 1267.5 453.3 1264.5 453.6 C1261.6 453.9 1258.6 454.2 1255.7 454.5 C1252.7 454.9 1249.8 455.3 1246.9 455.7 C1243.9 456.1 1241.0 456.5 1238.0 457.0 C1235.1 457.4 1232.1 457.9 1229.2 458.4 C1226.3 458.9 1223.3 459.4 1220.4 460.0 C1217.4 460.5 1214.5 461.1 1211.6 461.6 C1208.6 462.2 1205.7 462.8 1202.7 463.4 C1199.8 464.0 1196.9 464.6 1193.9 465.2 C1191.0 465.8 1188.1 466.4 1185.1 467.1 C1182.2 467.7 1179.3 468.3 1176.3 469.0 C1173.4 469.6 1170.5 470.3 1167.6 470.9 C1164.7 471.6 1161.7 472.3 1158.8 473.0 C1155.9 473.7 1153.0 474.4 1150.1 475.1 C1147.2 475.8 1144.3 476.5 1141.4 477.3 C1138.5 478.0 1135.6 478.8 1132.7 479.6 C1129.9 480.3 1127.0 481.1 1124.1 481.9 C1121.2 482.7 1118.4 483.6 1115.5 484.4 C1112.7 485.3 1109.8 486.1 1107.0 487.0 C1104.2 487.9 1101.3 488.8 1098.5 489.7 C1095.7 490.6 1092.9 491.6 1090.1 492.5 C1087.3 493.5 1084.5 494.5 1081.7 495.5 C1078.9 496.5 1076.2 497.5 1073.4 498.6 C1070.6 499.6 1067.9 500.7 1065.2 501.8 C1062.4 502.9 1059.7 504.1 1057.0 505.2 C1054.3 506.4 1051.6 507.6 1048.9 508.8 C1046.2 510.0 1043.6 511.2 1040.9 512.5 C1038.3 513.8 1035.6 515.1 1033.0 516.4 C1030.4 517.8 1027.8 519.1 1025.2 520.5 C1022.6 521.9 1020.0 523.3 1017.4 524.8 C1014.9 526.2 1012.3 527.7 1009.8 529.3 C1007.3 530.8 1004.8 532.3 1002.3 533.9 C999.8 535.5 997.3 537.2 994.9 538.8 C992.4 540.5 990.0 542.2 987.6 543.9 C985.2 545.7 982.8 547.5 980.4 549.3 C978.0 551.1 975.7 553.0 973.4 554.8 C971.0 556.7 968.7 558.7 966.5 560.6 C964.2 562.6 962.0 564.6 959.8 566.6 C957.6 568.7 955.4 570.7 953.3 572.9 C951.2 575.0 949.1 577.1 947.0 579.3 C945.0 581.5 943.0 583.7 941.0 585.9 C939.1 588.2 937.2 590.5 935.3 592.8 C933.4 595.1 931.6 597.4 929.9 599.8 C928.1 602.2 926.4 604.6 924.7 607.1 C923.1 609.5 921.4 612.0 919.9 614.5 C918.3 617.0 916.7 619.5 915.2 622.1 C913.7 624.6 912.2 627.2 910.8 629.8 C909.4 632.4 907.9 635.0 906.5 637.6 C905.1 640.2 903.8 642.8 902.4 645.5 C901.0 648.1 899.7 650.7 898.3 653.4 C897.0 656.0 895.7 658.7 894.4 661.4 C893.0 664.0 891.7 666.7 890.4 669.3 C889.0 672.0 887.8 674.6 886.4 677.3 C885.0 679.9 882.7 683.7 882.0 685.0Z"/></clipPath>
</defs>
<path d="M774.0 541.0 C775.2 538.8 776.7 534.3 778.3 531.1 C779.9 527.9 781.8 524.8 783.8 521.9 C785.7 519.0 787.9 516.2 790.2 513.5 C792.4 510.8 794.9 508.2 797.3 505.7 C799.8 503.2 802.4 500.8 805.1 498.4 C807.8 496.1 810.6 493.9 813.5 491.8 C816.3 489.6 819.3 487.6 822.2 485.6 C825.2 483.7 828.3 481.8 831.4 479.9 C834.5 478.1 837.7 476.4 840.9 474.7 C844.1 473.0 847.4 471.4 850.6 469.9 C853.9 468.3 857.2 466.9 860.5 465.4 C863.8 464.0 867.1 462.6 870.5 461.3 C873.8 460.0 877.1 458.7 880.5 457.5 C883.9 456.3 887.2 455.1 890.6 454.0 C894.0 452.8 897.4 451.7 900.8 450.7 C904.2 449.6 907.6 448.6 911.0 447.7 C914.4 446.7 917.9 445.8 921.3 444.9 C924.8 444.0 928.2 443.1 931.7 442.3 C935.1 441.5 938.6 440.7 942.0 439.9 C945.5 439.1 949.0 438.3 952.5 437.6 C956.0 436.9 959.5 436.2 963.0 435.5 C966.5 434.8 970.0 434.1 973.5 433.5 C977.0 432.8 980.5 432.2 984.0 431.6 C987.5 430.9 991.0 430.3 994.6 429.7 C998.1 429.1 1001.6 428.5 1005.1 427.9 C1008.7 427.3 1012.2 426.7 1015.7 426.2 C1019.3 425.6 1022.8 425.0 1026.3 424.4 C1029.9 423.8 1033.4 423.2 1037.0 422.7 C1040.5 422.1 1044.0 421.5 1047.6 421.0 C1051.1 420.5 1054.7 419.9 1058.2 419.4 C1061.8 418.9 1065.3 418.4 1068.9 417.9 C1072.4 417.4 1076.0 417.0 1079.5 416.6 C1083.1 416.1 1086.6 415.7 1090.2 415.3 C1093.7 415.0 1097.3 414.6 1100.8 414.3 C1104.4 414.0 1108.0 413.7 1111.5 413.5 C1115.1 413.3 1118.7 413.1 1122.2 412.9 C1125.8 412.7 1129.3 412.6 1132.9 412.5 C1136.5 412.4 1140.0 412.4 1143.6 412.3 C1147.2 412.3 1150.8 412.3 1154.3 412.4 C1157.9 412.4 1161.5 412.5 1165.0 412.6 C1168.6 412.7 1172.2 412.8 1175.7 413.0 C1179.3 413.1 1182.9 413.3 1186.4 413.5 C1190.0 413.8 1193.5 414.0 1197.1 414.3 C1200.7 414.6 1204.2 414.9 1207.8 415.2 C1211.3 415.5 1214.9 415.9 1218.5 416.2 C1222.0 416.6 1225.6 417.0 1229.1 417.4 C1232.7 417.9 1236.2 418.3 1239.7 418.8 C1243.3 419.3 1246.8 419.8 1250.3 420.3 C1253.9 420.8 1257.4 421.3 1260.9 421.9 C1264.5 422.4 1268.0 423.0 1271.5 423.6 C1275.0 424.2 1278.6 424.8 1282.1 425.4 C1285.6 426.0 1289.1 426.7 1292.6 427.4 C1296.1 428.0 1299.6 428.7 1303.1 429.4 C1306.6 430.1 1310.1 430.8 1313.6 431.6 C1317.1 432.3 1320.6 433.1 1324.1 433.8 C1327.6 434.6 1331.1 435.4 1334.6 436.2 C1338.1 437.0 1341.6 437.7 1345.1 438.6 C1348.6 439.4 1352.1 440.2 1355.5 441.2 C1358.9 442.2 1362.3 443.3 1365.4 444.7 C1368.6 446.2 1371.6 447.8 1374.3 450.0 C1377.1 452.1 1379.5 454.8 1381.7 457.7 C1383.9 460.6 1385.8 464.1 1387.5 467.5 C1389.2 470.8 1390.7 474.4 1392.0 477.8 C1393.3 481.2 1394.4 484.6 1395.3 487.9 C1396.3 491.3 1397.1 494.7 1397.8 498.1 C1398.5 501.5 1399.0 504.9 1399.5 508.4 C1400.0 511.8 1400.4 515.3 1400.7 518.9 C1401.0 522.5 1401.4 525.7 1401.5 530.0 C1401.6 534.3 1401.6 540.8 1401.6 545.0 C1401.6 549.2 1401.6 551.7 1401.7 555.1 C1401.8 558.5 1402.0 561.9 1402.1 565.3 C1402.1 568.7 1402.1 572.1 1402.1 575.5 C1402.0 578.9 1402.0 582.2 1401.8 585.6 C1401.7 589.0 1401.5 592.3 1401.3 595.7 C1401.0 599.0 1400.8 602.4 1400.4 605.7 C1400.1 609.0 1399.8 612.4 1399.3 615.7 C1398.9 619.0 1398.5 622.3 1398.0 625.6 C1397.5 628.9 1397.0 632.2 1396.4 635.5 C1395.9 638.8 1395.2 642.1 1394.6 645.4 C1394.0 648.7 1393.3 651.9 1392.6 655.2 C1391.9 658.5 1391.1 661.7 1390.3 665.0 C1389.5 668.2 1388.7 671.4 1387.9 674.7 C1387.0 677.9 1386.2 681.1 1385.3 684.4 C1384.4 687.6 1383.4 690.8 1382.5 694.0 C1381.5 697.2 1380.5 700.4 1379.5 703.6 C1378.5 706.8 1377.5 710.0 1376.4 713.2 C1375.3 716.4 1374.3 719.6 1373.2 722.7 C1372.1 725.9 1370.9 729.1 1369.8 732.3 C1368.7 735.4 1367.5 738.6 1366.3 741.7 C1365.2 744.9 1364.0 748.0 1362.8 751.2 C1361.6 754.3 1360.4 757.5 1359.1 760.6 C1357.9 763.8 1356.7 766.9 1355.4 770.0 C1354.1 773.1 1352.8 776.2 1351.5 779.3 C1350.2 782.4 1348.9 785.5 1347.5 788.6 C1346.1 791.7 1344.7 794.8 1343.3 797.8 C1341.9 800.9 1340.4 803.9 1338.9 806.9 C1337.4 809.9 1335.9 812.9 1334.4 815.9 C1332.8 818.9 1331.2 821.9 1329.6 824.8 C1327.9 827.8 1326.3 830.7 1324.6 833.6 C1322.8 836.5 1321.1 839.4 1319.3 842.2 C1317.5 845.1 1315.7 847.9 1313.9 850.7 C1312.0 853.5 1310.1 856.3 1308.1 859.0 C1306.2 861.7 1304.2 864.4 1302.2 867.1 C1300.2 869.7 1298.1 872.4 1296.0 875.0 C1293.9 877.5 1291.7 880.1 1289.5 882.6 C1287.3 885.1 1285.1 887.6 1282.8 890.0 C1280.5 892.4 1278.2 894.8 1275.8 897.1 C1273.4 899.5 1271.0 901.7 1268.5 904.0 C1266.1 906.2 1263.6 908.4 1261.0 910.5 C1258.4 912.7 1255.8 914.7 1253.2 916.8 C1250.5 918.8 1247.8 920.8 1245.0 922.7 C1242.3 924.6 1239.5 926.4 1236.6 928.2 C1233.7 930.0 1230.8 931.8 1227.9 933.4 C1224.9 935.1 1221.9 936.7 1218.8 938.2 C1215.8 939.8 1212.6 941.3 1209.5 942.6 C1206.4 944.0 1210.1 943.6 1200.2 946.5 C1190.3 949.4 1159.9 957.5 1150.1 960.3 C1140.3 963.1 1144.4 962.5 1141.4 963.6 C1138.5 964.6 1135.5 965.7 1132.5 966.7 C1129.5 967.7 1126.6 968.7 1123.6 969.7 C1120.6 970.7 1117.6 971.6 1114.7 972.6 C1111.7 973.5 1108.7 974.4 1105.8 975.3 C1102.8 976.2 1099.8 977.1 1096.9 977.9 C1093.9 978.8 1090.9 979.7 1087.9 980.5 C1085.0 981.3 1082.0 982.1 1079.0 982.9 C1076.1 983.8 1073.1 984.5 1070.1 985.3 C1067.1 986.1 1064.2 986.9 1061.2 987.6 C1058.2 988.4 1055.2 989.1 1052.2 989.9 C1049.3 990.6 1046.3 991.3 1043.3 992.1 C1040.3 992.8 1037.3 993.5 1034.3 994.2 C1031.3 994.9 1028.3 995.6 1025.3 996.3 C1022.3 997.0 1019.3 997.7 1016.3 998.4 C1013.3 999.1 1010.3 999.8 1007.3 1000.5 C1004.3 1001.2 1001.3 1001.9 998.3 1002.5 C995.2 1003.2 992.2 1003.9 989.2 1004.6 C986.2 1005.3 983.1 1006.0 980.1 1006.7 C977.0 1007.4 974.0 1008.1 970.9 1008.8 C967.9 1009.5 964.8 1010.2 961.8 1010.9 C958.7 1011.6 955.7 1012.3 952.6 1013.0 C949.5 1013.8 946.4 1014.5 943.4 1015.2 C940.3 1015.9 937.2 1016.6 934.1 1017.3 C931.0 1018.0 927.9 1018.7 924.8 1019.4 C921.7 1020.1 918.7 1020.7 915.6 1021.3 C912.5 1022.0 909.4 1022.6 906.3 1023.2 C903.2 1023.7 900.1 1024.3 897.0 1024.8 C893.9 1025.3 890.8 1025.8 887.7 1026.3 C884.7 1026.7 881.6 1027.1 878.5 1027.4 C875.4 1027.8 872.3 1028.1 869.3 1028.3 C866.2 1028.6 863.1 1028.8 860.1 1028.9 C857.0 1029.1 854.0 1029.2 850.9 1029.2 C847.9 1029.2 844.8 1029.1 841.8 1029.0 C838.8 1028.9 835.8 1028.7 832.8 1028.4 C829.7 1028.2 826.7 1027.8 823.7 1027.4 C820.8 1026.9 817.8 1026.4 814.8 1025.8 C811.8 1025.2 808.9 1024.5 805.9 1023.8 C803.0 1023.0 800.0 1022.1 797.1 1021.2 C794.2 1020.3 791.3 1019.3 788.3 1018.3 C785.4 1017.3 782.5 1016.2 779.6 1015.0 C776.7 1013.9 773.8 1012.7 771.0 1011.5 C768.1 1010.3 765.2 1009.0 762.3 1007.7 C759.5 1006.5 756.6 1005.2 753.7 1003.9 C750.9 1002.6 748.0 1001.2 745.1 999.9 C742.3 998.6 739.4 997.3 736.6 996.0 C733.7 994.6 730.8 993.3 728.0 992.0 C725.2 990.6 722.3 989.3 719.5 987.9 C716.6 986.5 713.8 985.2 711.0 983.8 C708.2 982.4 705.4 981.0 702.6 979.5 C699.8 978.1 697.0 976.6 694.2 975.1 C691.4 973.6 688.7 972.1 685.9 970.5 C683.2 969.0 680.5 967.4 677.8 965.7 C675.2 964.0 672.6 962.3 670.1 960.6 C667.6 958.8 665.1 956.9 662.7 955.0 C660.4 953.1 658.1 951.1 656.0 949.0 C653.8 947.0 651.8 944.8 649.9 942.5 C648.0 940.3 646.2 937.9 644.5 935.4 C642.9 932.9 641.4 930.4 640.2 927.6 C638.9 924.9 637.7 922.1 636.8 919.1 C635.9 916.2 635.0 913.0 634.6 909.8 C634.2 906.6 633.9 905.4 634.4 900.0 C634.9 894.6 636.8 882.9 637.5 877.7 C638.2 872.5 638.3 871.8 638.8 868.9 C639.3 866.0 640.1 863.1 640.8 860.3 C641.5 857.4 642.2 854.6 642.9 851.7 C643.6 848.9 644.3 846.0 645.0 843.2 C645.7 840.4 646.5 837.5 647.2 834.7 C648.0 831.8 648.7 829.0 649.5 826.2 C650.3 823.3 651.1 820.5 651.9 817.7 C652.7 814.8 653.5 812.0 654.3 809.2 C655.1 806.4 656.0 803.6 656.8 800.7 C657.6 797.9 658.5 795.1 659.4 792.3 C660.2 789.5 661.1 786.7 662.0 783.9 C662.9 781.1 663.8 778.2 664.7 775.4 C665.6 772.6 666.5 769.8 667.4 767.0 C668.3 764.3 669.3 761.5 670.2 758.7 C671.2 755.9 672.1 753.1 673.1 750.3 C674.1 747.5 675.0 744.7 676.0 742.0 C677.0 739.2 678.0 736.4 679.0 733.6 C680.0 730.9 681.0 728.1 682.0 725.3 C683.0 722.6 684.1 719.8 685.1 717.0 C686.1 714.3 687.2 711.5 688.2 708.7 C689.3 706.0 690.3 703.2 691.4 700.5 C692.5 697.7 693.6 695.0 694.6 692.2 C695.7 689.5 696.8 686.8 697.9 684.0 C699.0 681.3 700.1 678.6 701.2 675.8 C702.4 673.1 703.5 670.4 704.6 667.6 C705.7 664.9 706.9 662.2 708.0 659.5 C709.2 656.8 710.3 654.1 711.5 651.3 C712.7 648.6 713.8 645.9 715.0 643.2 C716.2 640.6 717.4 637.9 718.6 635.2 C719.9 632.5 721.1 629.8 722.3 627.2 C723.6 624.5 724.8 621.8 726.1 619.2 C727.4 616.5 728.6 613.9 729.9 611.3 C731.3 608.6 732.6 606.0 733.9 603.4 C735.2 600.8 736.6 598.2 738.0 595.6 C739.3 593.0 740.7 590.4 742.1 587.9 C743.5 585.3 744.9 582.7 746.4 580.2 C747.8 577.6 749.3 575.1 750.8 572.6 C752.3 570.1 753.8 567.6 755.3 565.1 C756.9 562.6 758.4 560.1 760.0 557.6 C761.6 555.2 762.9 552.5 764.8 550.3 C766.6 548.0 769.5 545.5 771.0 544.0 C772.5 542.5 772.8 543.2 774.0 541.0Z" fill="#1b1b1d"/>
<path d="M878.7 1026.2 C877.2 1026.4 872.5 1026.9 869.5 1027.1 C866.4 1027.4 863.3 1027.6 860.3 1027.7 C857.2 1027.9 854.2 1028.0 851.1 1028.0 C848.1 1028.0 845.0 1027.9 842.0 1027.8 C839.0 1027.7 836.0 1027.5 833.0 1027.2 C829.9 1027.0 826.9 1026.6 823.9 1026.2 C821.0 1025.7 818.0 1025.2 815.0 1024.6 C812.0 1024.0 809.1 1023.3 806.1 1022.6 C803.2 1021.8 800.2 1020.9 797.3 1020.0 C794.4 1019.1 791.5 1018.1 788.5 1017.1 C785.6 1016.1 782.7 1015.0 779.8 1013.8 C776.9 1012.7 774.0 1011.5 771.2 1010.3 C768.3 1009.1 765.4 1007.8 762.5 1006.5 C759.7 1005.3 756.8 1004.0 753.9 1002.7 C751.1 1001.4 748.2 1000.0 745.3 998.7 C742.5 997.4 739.6 996.1 736.8 994.8 C733.9 993.4 731.0 992.1 728.2 990.8 C725.4 989.4 722.5 988.1 719.7 986.7 C716.8 985.3 714.0 984.0 711.2 982.6 C708.4 981.2 705.6 979.8 702.8 978.3 C700.0 976.9 697.2 975.4 694.4 973.9 C691.6 972.4 688.9 970.9 686.1 969.3 C683.4 967.8 680.7 966.2 678.0 964.5 C675.4 962.8 672.8 961.1 670.3 959.4 C667.8 957.6 665.3 955.7 662.9 953.8 C660.6 951.9 658.3 949.9 656.2 947.8 C654.0 945.8 651.1 942.4 650.1 941.3" fill="none" stroke="#000" stroke-width="2.2" stroke-linecap="round" stroke-opacity="0.85"/>
<path d="M819.8 1016.8 C818.3 1016.5 813.9 1015.5 810.9 1014.8 C808.0 1014.0 805.0 1013.1 802.1 1012.2 C799.2 1011.3 796.3 1010.3 793.3 1009.3 C790.4 1008.3 787.5 1007.2 784.6 1006.0 C781.7 1004.9 778.8 1003.7 776.0 1002.5 C773.1 1001.3 770.2 1000.0 767.3 998.7 C764.5 997.5 761.6 996.2 758.7 994.9 C755.9 993.6 753.0 992.2 750.1 990.9 C747.3 989.6 744.4 988.3 741.6 987.0 C738.7 985.6 735.8 984.3 733.0 983.0 C730.2 981.6 727.3 980.3 724.5 978.9 C721.6 977.5 718.8 976.2 716.0 974.8 C713.2 973.4 710.4 972.0 707.6 970.5 C704.8 969.1 702.0 967.6 699.2 966.1 C696.4 964.6 693.7 963.1 690.9 961.5 C688.2 960.0 685.5 958.4 682.8 956.7 C680.2 955.0 677.6 953.3 675.1 951.6 C672.6 949.8 669.0 947.0 667.7 946.0" fill="none" stroke="#222223" stroke-width="11" stroke-linecap="round"/>
<path d="M873.1 678.1 C873.7 676.7 875.6 672.4 876.9 669.6 C878.1 666.8 879.3 664.1 880.6 661.3 C881.8 658.5 883.1 655.8 884.4 653.0 C885.8 650.2 887.1 647.4 888.5 644.6 C889.8 641.9 891.2 639.1 892.6 636.3 C894.1 633.5 895.5 630.7 897.0 628.0 C898.5 625.2 900.0 622.4 901.5 619.7 C903.0 617.0 904.6 614.2 906.2 611.5 C907.8 608.8 909.4 606.1 911.0 603.4 C912.7 600.7 914.4 598.0 916.1 595.4 C917.8 592.7 919.5 590.1 921.3 587.5 C923.1 584.9 924.9 582.4 926.8 579.8 C928.6 577.3 930.5 574.8 932.4 572.3 C934.3 569.8 936.3 567.4 938.3 565.0 C940.2 562.6 942.3 560.2 944.3 557.9 C946.4 555.6 948.5 553.3 950.6 551.1 C952.7 548.9 954.9 546.7 957.1 544.5 C959.3 542.4 961.6 540.3 963.9 538.3 C966.2 536.2 968.5 534.3 970.9 532.3 C973.2 530.4 975.6 528.5 978.1 526.7 C980.5 524.9 983.0 523.1 985.5 521.4 C988.0 519.7 990.6 518.0 993.2 516.4 C995.8 514.8 998.4 513.2 1001.0 511.7 C1003.7 510.2 1006.4 508.7 1009.1 507.3 C1011.8 505.8 1014.5 504.4 1017.3 503.1 C1020.0 501.7 1022.8 500.4 1025.6 499.1 C1028.4 497.8 1031.3 496.6 1034.1 495.4 C1037.0 494.2 1039.9 493.0 1042.8 491.8 C1045.7 490.7 1048.6 489.6 1051.5 488.5 C1054.4 487.4 1057.4 486.3 1060.3 485.3 C1063.3 484.3 1066.3 483.3 1069.2 482.3 C1072.2 481.3 1075.2 480.3 1078.2 479.4 C1081.2 478.4 1084.2 477.5 1087.3 476.6 C1090.3 475.7 1093.3 474.8 1096.3 473.9 C1099.4 473.1 1102.4 472.2 1105.4 471.4 C1108.5 470.5 1111.5 469.7 1114.6 468.9 C1117.6 468.0 1120.6 467.2 1123.7 466.4 C1126.7 465.6 1129.8 464.8 1132.8 464.1 C1135.8 463.3 1138.9 462.5 1141.9 461.7 C1144.9 461.0 1148.0 460.2 1151.0 459.5 C1154.1 458.8 1157.1 458.1 1160.1 457.4 C1163.2 456.7 1166.2 456.0 1169.2 455.3 C1172.3 454.6 1175.3 454.0 1178.4 453.3 C1181.4 452.7 1184.4 452.1 1187.5 451.5 C1190.5 450.9 1193.6 450.3 1196.6 449.7 C1199.7 449.2 1202.7 448.6 1205.7 448.1 C1208.8 447.6 1211.8 447.1 1214.9 446.6 C1217.9 446.2 1221.0 445.7 1224.0 445.3 C1227.1 444.8 1230.2 444.4 1233.2 444.1 C1236.3 443.7 1239.3 443.3 1242.4 443.0 C1245.5 442.7 1248.5 442.4 1251.6 442.1 C1254.7 441.8 1257.7 441.6 1260.8 441.4 C1263.9 441.1 1266.9 441.0 1270.0 440.8 C1273.1 440.6 1276.2 440.5 1279.3 440.4 C1282.4 440.3 1285.4 440.3 1288.5 440.2 C1291.6 440.2 1294.7 440.2 1297.8 440.2 C1300.9 440.3 1304.0 440.3 1307.1 440.4 C1310.3 440.6 1313.4 440.7 1316.5 440.9 C1319.6 441.0 1322.7 441.3 1325.8 441.5 C1329.0 441.8 1332.1 442.0 1335.2 442.4 C1338.3 442.8 1341.4 443.2 1344.4 443.8 C1347.5 444.4 1350.5 445.0 1353.3 445.9 C1356.2 446.8 1359.0 447.9 1361.7 449.2 C1364.3 450.5 1366.9 452.0 1369.2 453.8 C1371.6 455.7 1373.8 457.8 1375.8 460.2 C1377.8 462.6 1379.6 465.4 1381.4 468.2 C1383.2 471.0 1384.7 474.0 1386.3 477.0 C1387.9 479.9 1389.4 483.0 1391.0 485.7 C1392.6 488.4 1395.2 491.8 1396.0 493.0L1361.0 459.2 C1359.6 458.8 1355.5 457.4 1352.7 456.7 C1349.9 455.9 1346.9 455.5 1343.9 455.0 C1341.0 454.5 1338.1 454.1 1335.1 453.7 C1332.2 453.4 1329.3 453.0 1326.3 452.8 C1323.4 452.5 1320.5 452.3 1317.5 452.1 C1314.6 451.9 1311.6 451.8 1308.7 451.7 C1305.7 451.7 1302.8 451.6 1299.9 451.6 C1296.9 451.6 1294.0 451.7 1291.0 451.8 C1288.1 451.9 1285.1 452.0 1282.2 452.2 C1279.2 452.3 1276.3 452.5 1273.4 452.8 C1270.4 453.0 1267.5 453.3 1264.5 453.6 C1261.6 453.9 1258.6 454.2 1255.7 454.5 C1252.7 454.9 1249.8 455.3 1246.9 455.7 C1243.9 456.1 1241.0 456.5 1238.0 457.0 C1235.1 457.4 1232.1 457.9 1229.2 458.4 C1226.3 458.9 1223.3 459.4 1220.4 460.0 C1217.4 460.5 1214.5 461.1 1211.6 461.6 C1208.6 462.2 1205.7 462.8 1202.7 463.4 C1199.8 464.0 1196.9 464.6 1193.9 465.2 C1191.0 465.8 1188.1 466.4 1185.1 467.1 C1182.2 467.7 1179.3 468.3 1176.3 469.0 C1173.4 469.6 1170.5 470.3 1167.6 470.9 C1164.7 471.6 1161.7 472.3 1158.8 473.0 C1155.9 473.7 1153.0 474.4 1150.1 475.1 C1147.2 475.8 1144.3 476.5 1141.4 477.3 C1138.5 478.0 1135.6 478.8 1132.7 479.6 C1129.9 480.3 1127.0 481.1 1124.1 481.9 C1121.2 482.7 1118.4 483.6 1115.5 484.4 C1112.7 485.3 1109.8 486.1 1107.0 487.0 C1104.2 487.9 1101.3 488.8 1098.5 489.7 C1095.7 490.6 1092.9 491.6 1090.1 492.5 C1087.3 493.5 1084.5 494.5 1081.7 495.5 C1078.9 496.5 1076.2 497.5 1073.4 498.6 C1070.6 499.6 1067.9 500.7 1065.2 501.8 C1062.4 502.9 1059.7 504.1 1057.0 505.2 C1054.3 506.4 1051.6 507.6 1048.9 508.8 C1046.2 510.0 1043.6 511.2 1040.9 512.5 C1038.3 513.8 1035.6 515.1 1033.0 516.4 C1030.4 517.8 1027.8 519.1 1025.2 520.5 C1022.6 521.9 1020.0 523.3 1017.4 524.8 C1014.9 526.2 1012.3 527.7 1009.8 529.3 C1007.3 530.8 1004.8 532.3 1002.3 533.9 C999.8 535.5 997.3 537.2 994.9 538.8 C992.4 540.5 990.0 542.2 987.6 543.9 C985.2 545.7 982.8 547.5 980.4 549.3 C978.0 551.1 975.7 553.0 973.4 554.8 C971.0 556.7 968.7 558.7 966.5 560.6 C964.2 562.6 962.0 564.6 959.8 566.6 C957.6 568.7 955.4 570.7 953.3 572.9 C951.2 575.0 949.1 577.1 947.0 579.3 C945.0 581.5 943.0 583.7 941.0 585.9 C939.1 588.2 937.2 590.5 935.3 592.8 C933.4 595.1 931.6 597.4 929.9 599.8 C928.1 602.2 926.4 604.6 924.7 607.1 C923.1 609.5 921.4 612.0 919.9 614.5 C918.3 617.0 916.7 619.5 915.2 622.1 C913.7 624.6 912.2 627.2 910.8 629.8 C909.4 632.4 907.9 635.0 906.5 637.6 C905.1 640.2 903.8 642.8 902.4 645.5 C901.0 648.1 899.7 650.7 898.3 653.4 C897.0 656.0 895.7 658.7 894.4 661.4 C893.0 664.0 891.7 666.7 890.4 669.3 C889.0 672.0 887.8 674.6 886.4 677.3 C885.0 679.9 882.7 683.7 882.0 685.0Z" fill="#2a2d30"/>
<path d="M882.0 685.0 C882.7 683.7 885.0 679.9 886.4 677.3 C887.8 674.6 889.0 672.0 890.4 669.3 C891.7 666.7 893.0 664.0 894.4 661.4 C895.7 658.7 897.0 656.0 898.3 653.4 C899.7 650.7 901.0 648.1 902.4 645.5 C903.8 642.8 905.1 640.2 906.5 637.6 C907.9 635.0 909.4 632.4 910.8 629.8 C912.2 627.2 913.7 624.6 915.2 622.1 C916.7 619.5 918.3 617.0 919.9 614.5 C921.4 612.0 923.1 609.5 924.7 607.1 C926.4 604.6 928.1 602.2 929.9 599.8 C931.6 597.4 933.4 595.1 935.3 592.8 C937.2 590.5 939.1 588.2 941.0 585.9 C943.0 583.7 945.0 581.5 947.0 579.3 C949.1 577.1 951.2 575.0 953.3 572.9 C955.4 570.7 957.6 568.7 959.8 566.6 C962.0 564.6 964.2 562.6 966.5 560.6 C968.7 558.7 971.0 556.7 973.4 554.8 C975.7 553.0 978.0 551.1 980.4 549.3 C982.8 547.5 985.2 545.7 987.6 543.9 C990.0 542.2 992.4 540.5 994.9 538.8 C997.3 537.2 999.8 535.5 1002.3 533.9 C1004.8 532.3 1007.3 530.8 1009.8 529.3 C1012.3 527.7 1014.9 526.2 1017.4 524.8 C1020.0 523.3 1022.6 521.9 1025.2 520.5 C1027.8 519.1 1030.4 517.8 1033.0 516.4 C1035.6 515.1 1038.3 513.8 1040.9 512.5 C1043.6 511.2 1046.2 510.0 1048.9 508.8 C1051.6 507.6 1054.3 506.4 1057.0 505.2 C1059.7 504.1 1062.4 502.9 1065.2 501.8 C1067.9 500.7 1070.6 499.6 1073.4 498.6 C1076.2 497.5 1078.9 496.5 1081.7 495.5 C1084.5 494.5 1087.3 493.5 1090.1 492.5 C1092.9 491.6 1095.7 490.6 1098.5 489.7 C1101.3 488.8 1104.2 487.9 1107.0 487.0 C1109.8 486.1 1112.7 485.3 1115.5 484.4 C1118.4 483.6 1121.2 482.7 1124.1 481.9 C1127.0 481.1 1129.9 480.3 1132.7 479.6 C1135.6 478.8 1138.5 478.0 1141.4 477.3 C1144.3 476.5 1147.2 475.8 1150.1 475.1 C1153.0 474.4 1155.9 473.7 1158.8 473.0 C1161.7 472.3 1164.7 471.6 1167.6 470.9 C1170.5 470.3 1173.4 469.6 1176.3 469.0 C1179.3 468.3 1182.2 467.7 1185.1 467.1 C1188.1 466.4 1191.0 465.8 1193.9 465.2 C1196.9 464.6 1199.8 464.0 1202.7 463.4 C1205.7 462.8 1208.6 462.2 1211.6 461.6 C1214.5 461.1 1217.4 460.5 1220.4 460.0 C1223.3 459.4 1226.3 458.9 1229.2 458.4 C1232.1 457.9 1235.1 457.4 1238.0 457.0 C1241.0 456.5 1243.9 456.1 1246.9 455.7 C1249.8 455.3 1252.7 454.9 1255.7 454.5 C1258.6 454.2 1261.6 453.9 1264.5 453.6 C1267.5 453.3 1270.4 453.0 1273.4 452.8 C1276.3 452.5 1279.2 452.3 1282.2 452.2 C1285.1 452.0 1288.1 451.9 1291.0 451.8 C1294.0 451.7 1296.9 451.6 1299.9 451.6 C1302.8 451.6 1305.7 451.7 1308.7 451.7 C1311.6 451.8 1314.6 451.9 1317.5 452.1 C1320.5 452.3 1323.4 452.5 1326.3 452.8 C1329.3 453.0 1332.2 453.4 1335.1 453.7 C1338.1 454.1 1341.0 454.5 1343.9 455.0 C1346.9 455.5 1349.9 455.9 1352.7 456.7 C1355.5 457.4 1358.4 458.1 1361.0 459.2 C1363.6 460.4 1366.1 461.7 1368.4 463.4 C1370.6 465.2 1372.5 467.4 1374.3 469.9 C1376.0 472.3 1377.5 475.2 1378.9 478.0 C1380.3 480.7 1381.5 483.7 1382.7 486.6 C1383.8 489.4 1384.9 492.3 1385.8 495.2 C1386.8 498.1 1387.6 501.0 1388.4 503.9 C1389.2 506.8 1389.9 509.7 1390.5 512.6 C1391.2 515.5 1391.7 518.4 1392.2 521.3 C1392.8 524.3 1393.2 527.2 1393.6 530.1 C1394.1 533.0 1394.4 536.0 1394.7 538.9 C1395.0 541.8 1395.3 544.8 1395.5 547.7 C1395.6 550.7 1395.7 553.6 1395.6 556.6 C1395.6 559.5 1395.4 562.4 1395.1 565.4 C1394.8 568.3 1394.4 571.3 1393.8 574.2 C1393.2 577.2 1392.0 581.5 1391.6 583.0L1397.0 615.2 C1396.2 621.5 1394.2 640.2 1392.0 652.7 C1389.8 665.2 1387.0 678.6 1383.5 690.0 C1380.0 701.4 1374.6 711.9 1370.8 721.3 C1367.0 730.7 1364.5 736.6 1360.8 746.4 C1357.0 756.2 1352.5 769.6 1348.3 780.2 C1344.1 790.8 1339.5 801.9 1335.8 810.2 C1332.1 818.5 1330.1 823.0 1326.0 830.0 C1321.9 837.0 1316.6 844.8 1311.0 852.5 C1305.4 860.2 1298.5 869.2 1292.3 876.5 C1286.0 883.8 1280.7 889.4 1273.5 896.0 C1266.3 902.6 1257.2 909.8 1249.0 916.0 C1240.8 922.2 1232.2 928.8 1224.0 933.5 C1215.8 938.2 1211.8 940.4 1199.5 944.5 C1187.2 948.6 1164.0 953.9 1150.1 958.3 C1136.2 962.7 1124.3 968.0 1116.0 970.7 C1107.7 973.4 1109.3 972.0 1100.0 974.5 C1090.7 977.0 1075.4 981.8 1060.4 985.7 C1045.5 989.7 1027.0 994.2 1010.3 998.2 C993.6 1002.2 976.9 1006.0 960.2 1009.5 C943.5 1013.0 924.1 1016.9 910.1 1019.5 C896.1 1022.1 884.7 1023.8 876.0 1025.1 C867.3 1026.3 865.2 1026.6 858.0 1027.0 C850.8 1027.4 840.2 1027.6 832.9 1027.6 C825.6 1027.6 817.2 1027.1 814.1 1027.0L807.9 1026.5 C806.8 1026.1 803.0 1025.2 801.0 1024.1 C799.1 1022.9 797.7 1021.0 796.2 1019.4 C794.7 1017.8 793.3 1016.2 792.0 1014.5 C790.7 1012.7 789.6 1011.0 788.5 1009.1 C787.4 1007.3 786.5 1005.5 785.6 1003.5 C784.8 1001.6 784.0 999.7 783.3 997.7 C782.7 995.7 782.1 993.6 781.6 991.6 C781.1 989.5 780.6 987.4 780.3 985.3 C779.9 983.1 779.7 981.0 779.4 978.8 C779.2 976.6 779.1 974.4 779.0 972.2 C778.9 970.0 778.9 967.8 778.9 965.6 C778.9 963.3 779.0 961.1 779.1 958.9 C779.2 956.6 779.4 954.4 779.6 952.1 C779.8 949.9 780.0 947.7 780.3 945.4 C780.5 943.2 780.8 941.0 781.1 938.8 C781.5 936.5 781.8 934.3 782.2 932.1 C782.6 929.9 783.0 927.7 783.4 925.5 C783.9 923.3 784.4 921.1 784.8 918.9 C785.3 916.7 785.8 914.6 786.4 912.4 C786.9 910.2 787.5 908.0 788.1 905.9 C788.6 903.7 789.2 901.5 789.9 899.4 C790.5 897.2 791.1 895.1 791.8 892.9 C792.4 890.8 793.1 888.6 793.8 886.5 C794.5 884.3 795.2 882.2 795.9 880.1 C796.6 877.9 797.3 875.8 798.0 873.7 C798.8 871.6 799.5 869.4 800.3 867.3 C801.0 865.2 801.8 863.1 802.6 861.0 C803.3 858.9 804.1 856.8 804.9 854.7 C805.7 852.6 806.5 850.5 807.2 848.4 C808.0 846.3 808.8 844.2 809.6 842.1 C810.4 840.1 811.2 838.0 812.0 835.9 C812.8 833.8 813.6 831.7 814.5 829.7 C815.3 827.6 816.1 825.5 816.9 823.5 C817.7 821.4 818.6 819.4 819.4 817.3 C820.2 815.3 821.1 813.2 821.9 811.2 C822.7 809.1 823.6 807.1 824.4 805.0 C825.3 803.0 826.1 800.9 827.0 798.9 C827.9 796.9 828.7 794.8 829.6 792.8 C830.5 790.8 831.3 788.7 832.2 786.7 C833.1 784.7 834.0 782.7 834.9 780.6 C835.8 778.6 836.6 776.6 837.5 774.6 C838.4 772.6 839.3 770.5 840.3 768.5 C841.2 766.5 842.1 764.5 843.0 762.5 C843.9 760.5 844.8 758.5 845.8 756.5 C846.7 754.5 847.6 752.5 848.6 750.5 C849.5 748.5 850.5 746.4 851.4 744.4 C852.4 742.4 853.3 740.4 854.3 738.4 C855.2 736.5 856.2 734.5 857.2 732.5 C858.2 730.5 859.1 728.5 860.1 726.5 C861.1 724.5 862.1 722.5 863.1 720.5 C864.1 718.5 865.1 716.5 866.1 714.5 C867.1 712.5 868.1 710.5 869.2 708.5 C870.2 706.5 871.2 704.6 872.2 702.6 C873.3 700.6 874.3 698.6 875.4 696.6 C876.4 694.6 877.4 692.6 878.5 690.6 C879.6 688.7 881.4 685.9 882.0 685.0Z" fill="#26292c"/>
<g clip-path="url(#faceclip)">
<path d="M1031.5 592.0 C1031.2 586.8 1032.4 579.5 1036.0 573.0 C1039.6 566.5 1042.3 558.1 1053.0 553.0 C1063.7 547.9 1075.5 547.2 1100.0 542.5 C1124.5 537.8 1163.7 531.1 1200.0 525.0 C1236.3 518.9 1296.5 508.9 1318.0 506.0 C1339.5 503.1 1327.2 506.0 1329.0 507.5 C1330.8 509.0 1332.2 507.4 1329.0 515.0 C1325.8 522.6 1314.8 545.2 1310.0 553.0 C1305.2 560.8 1318.3 557.2 1300.0 561.5 C1281.7 565.8 1233.3 573.1 1200.0 579.0 C1166.7 584.9 1124.5 592.6 1100.0 597.0 C1075.5 601.4 1063.3 604.3 1053.0 605.5 C1042.7 606.7 1041.6 606.2 1038.0 604.0 C1034.4 601.8 1031.8 597.2 1031.5 592.0Z" fill="#484b4e"/>
<path d="M1305.5 528.5 L1328 509 L1312 546 L1303 560 L1294.5 559 Z" fill="#34363a"/>
<path d="M1093.0 563.5 L1300.0 528.5 L1304.0 531.0 L1293.0 557.0 L1289.0 560.0 L1082.0 594.5 L1078.0 591.0 L1088.0 567.0Z" fill="#686a6d" stroke="#2e3033" stroke-width="1"/>
<text transform="translate(1097,591) rotate(-9.6) skewX(-14)" font-family="'Liberation Sans', sans-serif" font-weight="bold" font-size="26" textLength="193" lengthAdjust="spacingAndGlyphs" fill="#9f9fa1" stroke="#9f9fa1" stroke-width="1.2">VIKINGBAGS</text>
<path d="M800.0 853.7 L1176.0 772.8 L1241.5 830.0 L1292.9 870.0 L1300.0 900.0 L1200.0 960.0 L1149.8 965.0 L1149.8 898.3 L1100.0 908.0 L1060.4 916.3 L1014.0 927.0 L972.7 925.7 L937.7 923.2 L897.6 915.0 L860.0 905.7 L832.9 897.7 L799.1 886.4 L790.0 880.0Z" fill="#84888b"/>
<path d="M799.1 886.4 C804.7 888.3 822.8 894.5 832.9 897.7 C843.0 900.9 849.2 902.8 860.0 905.7 C870.8 908.6 884.6 912.1 897.6 915.0 C910.6 917.9 925.2 921.4 937.7 923.2 C950.2 925.0 960.0 925.1 972.7 925.7 C985.4 926.3 999.4 928.6 1014.0 927.0 C1028.6 925.4 1046.1 919.5 1060.4 916.3 C1074.7 913.1 1085.1 911.0 1100.0 908.0 C1114.9 905.0 1141.5 899.9 1149.8 898.3L1149.8 923.3 C1141.5 925.2 1114.9 931.1 1100.0 934.5 C1085.1 937.9 1074.3 940.8 1060.4 943.9 C1046.5 947.0 1037.0 951.4 1016.6 952.9 C996.1 954.4 957.5 953.8 937.7 952.6 C917.9 951.4 910.6 948.2 897.6 945.8 C884.6 943.4 870.8 941.0 860.0 938.2 C849.2 935.4 844.8 933.0 832.9 928.8 C821.0 924.6 795.9 915.5 788.5 912.9L780 905Z" fill="#6d7174"/>
<path d="M788.5 912.9 C795.9 915.5 821.0 924.6 832.9 928.8 C844.8 933.0 849.2 935.4 860.0 938.2 C870.8 941.0 884.6 943.4 897.6 945.8 C910.6 948.2 917.9 951.4 937.7 952.6 C957.5 953.8 996.1 954.4 1016.6 952.9 C1037.0 951.4 1046.5 947.0 1060.4 943.9 C1074.3 940.8 1085.1 937.9 1100.0 934.5 C1114.9 931.1 1141.5 925.2 1149.8 923.3L1149.85 970 L1000 1012 L820 1040 L760 1000Z" fill="#1b1b1d"/>
</g>
<clipPath id="panelclip"><path d="M1226.0 446.0 L1300.0 436.0 L1420.0 440.0 L1420.0 880.0 L1292.9 870.0 L1241.5 830.0 L1176.5 773.0 L1184.2 736.0 L1200.9 655.0 L1211.5 603.0 L1220.3 546.0Z"/></clipPath>
<g clip-path="url(#bagclip)"><g clip-path="url(#panelshape)">
<path d="M1226.0 446.0 L1300.0 436.0 L1420.0 440.0 L1420.0 880.0 L1292.9 870.0 L1241.5 830.0 L1176.5 773.0 L1184.2 736.0 L1200.9 655.0 L1211.5 603.0 L1220.3 546.0Z" fill="url(#pw)"/><path d="M1226.0 446.0 L1300.0 436.0 L1420.0 440.0 L1420.0 880.0 L1292.9 870.0 L1241.5 830.0 L1176.5 773.0 L1184.2 736.0 L1200.9 655.0 L1211.5 603.0 L1220.3 546.0Z" fill="url(#pb)"/>
</g></g>
<path d="M1177.5 773.6 L1241.5 830.3 L1292.6 870.2" stroke="#84888b" stroke-width="1.6" fill="none"/>
<g clip-path="url(#faceclip)"><path d="M1199.0 663.6 C1207.5 661.8 1233.2 656.4 1250.1 652.7 C1267.0 649.0 1285.6 645.2 1300.2 641.5 C1314.8 637.8 1327.4 634.2 1337.8 630.2 C1348.2 626.2 1355.5 622.3 1362.8 617.7 C1370.1 613.1 1376.6 608.2 1381.6 602.6 C1386.6 597.0 1391.0 586.9 1392.9 583.8" fill="none" stroke="#000" stroke-opacity="0.38" stroke-width="1.5"/></g>
<g clip-path="url(#faceclip)">
<path d="M860.0 659.7 L1199.1 595.7 L1206.0 597.0 L1209.1 602.5 L1207.8 617.6 L1200.0 655.2 L1183.4 736.0 L1176.0 772.8 L800.0 853.7 L800.0 700.0Z" fill="#222528"/>
<path d="M860.0 659.7 L1199.1 595.7 L1206.0 597.0 L1209.1 602.5 L1207.8 617.6 L1205.2 630.0 L1087.6 653.9 L1067.6 657.7 L964.0 677.7 L943.4 677.7 L860.0 698.0 L850.0 700.0Z" fill="url(#flapg)"/>
<path d="M860.0 659.7 L1198 596 Q1208 595.5 1208.6 604 L1183.4 736 L1176 772.8" fill="none" stroke="#000" stroke-width="5" stroke-linejoin="round"/>
<path d="M1176.5 772.7 L800 853.7" stroke="#000" stroke-width="4" fill="none" stroke-linecap="round"/>
<path d="M880 665.0 L1196 604 Q1202 603.5 1203.5 609" stroke="#000" stroke-width="3.3" stroke-dasharray="7.2 4.8" fill="none"/>
<path d="M876.4 694.5 L943.4 677.7 M964 677.7 L1067.6 657.7 M1087.6 653.9 L1203.8 630" stroke="#000" stroke-width="4.4" fill="none"/>
<path d="M878 702.5 L942 686.7 M966 686 L1066.3 666.4 M1088.3 661.6 L1201.6 637.2" stroke="#000" stroke-width="3.2" stroke-dasharray="7.2 4.8" fill="none"/>
<path d="M944.5 679.0 L963.5 680.5 L942.6 822.0 L923.5 826.5Z" fill="#131416" stroke="#000" stroke-width="3.6" stroke-linejoin="round"/>
<path d="M1068.8 657.5 L1086.0 657.5 L1066.4 794.5 L1047.6 799.0Z" fill="#131416" stroke="#000" stroke-width="3.6" stroke-linejoin="round"/>
<path d="M936.5 668.5 L957.5 679.0" stroke="#000" stroke-width="16.5" stroke-linecap="round"/>
<path d="M936.5 668.5 L957.5 679.0" stroke="#131416" stroke-width="9" stroke-linecap="round"/>
<path d="M939.5 670.0 L959.5 680.0" stroke="#000" stroke-width="2.2" stroke-dasharray="6 4" />
<path d="M1058.2 645.0 L1080.5 655.0" stroke="#000" stroke-width="16.5" stroke-linecap="round"/>
<path d="M1058.2 645.0 L1080.5 655.0" stroke="#131416" stroke-width="9" stroke-linecap="round"/>
<path d="M1061.2 646.5 L1082.5 656.0" stroke="#000" stroke-width="2.2" stroke-dasharray="6 4" />
</g>
<path d="M788.1 905.9 C788.4 904.8 789.2 901.5 789.9 899.4 C790.5 897.2 791.1 895.1 791.8 892.9 C792.4 890.8 793.1 888.6 793.8 886.5 C794.5 884.3 795.2 882.2 795.9 880.1 C796.6 877.9 797.3 875.8 798.0 873.7 C798.8 871.6 799.5 869.4 800.3 867.3 C801.0 865.2 801.8 863.1 802.6 861.0 C803.3 858.9 804.1 856.8 804.9 854.7 C805.7 852.6 806.5 850.5 807.2 848.4 C808.0 846.3 808.8 844.2 809.6 842.1 C810.4 840.1 811.2 838.0 812.0 835.9 C812.8 833.8 813.6 831.7 814.5 829.7 C815.3 827.6 816.1 825.5 816.9 823.5 C817.7 821.4 818.6 819.4 819.4 817.3 C820.2 815.3 821.1 813.2 821.9 811.2 C822.7 809.1 823.6 807.1 824.4 805.0 C825.3 803.0 826.1 800.9 827.0 798.9 C827.9 796.9 828.7 794.8 829.6 792.8 C830.5 790.8 831.3 788.7 832.2 786.7 C833.1 784.7 834.0 782.7 834.9 780.6 C835.8 778.6 836.6 776.6 837.5 774.6 C838.4 772.6 839.3 770.5 840.3 768.5 C841.2 766.5 842.1 764.5 843.0 762.5 C843.9 760.5 844.8 758.5 845.8 756.5 C846.7 754.5 847.6 752.5 848.6 750.5 C849.5 748.5 850.5 746.4 851.4 744.4 C852.4 742.4 853.3 740.4 854.3 738.4 C855.2 736.5 856.2 734.5 857.2 732.5 C858.2 730.5 859.1 728.5 860.1 726.5 C861.1 724.5 862.1 722.5 863.1 720.5 C864.1 718.5 865.1 716.5 866.1 714.5 C867.1 712.5 868.1 710.5 869.2 708.5 C870.2 706.5 871.2 704.6 872.2 702.6 C873.3 700.6 874.3 698.6 875.4 696.6 C876.4 694.6 877.4 692.6 878.5 690.6 C879.6 688.7 880.7 687.2 882.0 685.0 C883.3 682.8 885.0 679.9 886.4 677.3 C887.8 674.6 889.0 672.0 890.4 669.3 C891.7 666.7 893.0 664.0 894.4 661.4 C895.7 658.7 897.0 656.0 898.3 653.4 C899.7 650.7 901.0 648.1 902.4 645.5 C903.8 642.8 905.1 640.2 906.5 637.6 C907.9 635.0 909.4 632.4 910.8 629.8 C912.2 627.2 913.7 624.6 915.2 622.1 C916.7 619.5 918.3 617.0 919.9 614.5 C921.4 612.0 923.1 609.5 924.7 607.1 C926.4 604.6 928.1 602.2 929.9 599.8 C931.6 597.4 933.4 595.1 935.3 592.8 C937.2 590.5 939.1 588.2 941.0 585.9 C943.0 583.7 945.0 581.5 947.0 579.3 C949.1 577.1 951.2 575.0 953.3 572.9 C955.4 570.7 957.6 568.7 959.8 566.6 C962.0 564.6 964.2 562.6 966.5 560.6 C968.7 558.7 971.0 556.7 973.4 554.8 C975.7 553.0 978.0 551.1 980.4 549.3 C982.8 547.5 985.2 545.7 987.6 543.9 C990.0 542.2 992.4 540.5 994.9 538.8 C997.3 537.2 999.8 535.5 1002.3 533.9 C1004.8 532.3 1007.3 530.8 1009.8 529.3 C1012.3 527.7 1014.9 526.2 1017.4 524.8 C1020.0 523.3 1022.6 521.9 1025.2 520.5 C1027.8 519.1 1030.4 517.8 1033.0 516.4 C1035.6 515.1 1038.3 513.8 1040.9 512.5 C1043.6 511.2 1046.2 510.0 1048.9 508.8 C1051.6 507.6 1054.3 506.4 1057.0 505.2 C1059.7 504.1 1062.4 502.9 1065.2 501.8 C1067.9 500.7 1070.6 499.6 1073.4 498.6 C1076.2 497.5 1078.9 496.5 1081.7 495.5 C1084.5 494.5 1087.3 493.5 1090.1 492.5 C1092.9 491.6 1095.7 490.6 1098.5 489.7 C1101.3 488.8 1104.2 487.9 1107.0 487.0 C1109.8 486.1 1112.7 485.3 1115.5 484.4 C1118.4 483.6 1121.2 482.7 1124.1 481.9 C1127.0 481.1 1129.9 480.3 1132.7 479.6 C1135.6 478.8 1138.5 478.0 1141.4 477.3 C1144.3 476.5 1147.2 475.8 1150.1 475.1 C1153.0 474.4 1155.9 473.7 1158.8 473.0 C1161.7 472.3 1164.7 471.6 1167.6 470.9 C1170.5 470.3 1173.4 469.6 1176.3 469.0 C1179.3 468.3 1182.2 467.7 1185.1 467.1 C1188.1 466.4 1191.0 465.8 1193.9 465.2 C1196.9 464.6 1199.8 464.0 1202.7 463.4 C1205.7 462.8 1208.6 462.2 1211.6 461.6 C1214.5 461.1 1217.4 460.5 1220.4 460.0 C1223.3 459.4 1226.3 458.9 1229.2 458.4 C1232.1 457.9 1235.1 457.4 1238.0 457.0 C1241.0 456.5 1243.9 456.1 1246.9 455.7 C1249.8 455.3 1252.7 454.9 1255.7 454.5 C1258.6 454.2 1261.6 453.9 1264.5 453.6 C1267.5 453.3 1270.4 453.0 1273.4 452.8 C1276.3 452.5 1279.2 452.3 1282.2 452.2 C1285.1 452.0 1288.1 451.9 1291.0 451.8 C1294.0 451.7 1296.9 451.6 1299.9 451.6 C1302.8 451.6 1305.7 451.7 1308.7 451.7 C1311.6 451.8 1314.6 451.9 1317.5 452.1 C1320.5 452.3 1323.4 452.5 1326.3 452.8 C1329.3 453.0 1332.2 453.4 1335.1 453.7 C1338.1 454.1 1341.0 454.5 1343.9 455.0 C1346.9 455.5 1349.9 455.9 1352.7 456.7 C1355.5 457.4 1358.4 458.1 1361.0 459.2 C1363.6 460.4 1366.1 461.7 1368.4 463.4 C1370.6 465.2 1372.5 467.4 1374.3 469.9 C1376.0 472.3 1377.5 475.2 1378.9 478.0 C1380.3 480.7 1381.5 483.7 1382.7 486.6 C1383.8 489.4 1384.9 492.3 1385.8 495.2 C1386.8 498.1 1387.6 501.0 1388.4 503.9 C1389.2 506.8 1389.9 509.7 1390.5 512.6 C1391.2 515.5 1391.7 518.4 1392.2 521.3 C1392.8 524.3 1393.2 527.2 1393.6 530.1 C1394.1 533.0 1394.4 536.0 1394.7 538.9 C1395.0 541.8 1395.3 544.8 1395.5 547.7 C1395.6 550.7 1395.7 553.6 1395.6 556.6 C1395.6 559.5 1395.4 562.4 1395.1 565.4 C1394.8 568.3 1394.4 571.3 1393.8 574.2 C1393.2 577.2 1392.0 581.5 1391.6 583.0" fill="none" stroke="#000" stroke-width="4.5" stroke-linejoin="round" stroke-linecap="round"/>
<g clip-path="url(#bagclip)"><path d="M807.9 1026.5 C806.8 1026.1 803.0 1025.2 801.0 1024.1 C799.1 1022.9 797.7 1021.0 796.2 1019.4 C794.7 1017.8 793.3 1016.2 792.0 1014.5 C790.7 1012.7 789.6 1011.0 788.5 1009.1 C787.4 1007.3 786.5 1005.5 785.6 1003.5 C784.8 1001.6 784.0 999.7 783.3 997.7 C782.7 995.7 782.1 993.6 781.6 991.6 C781.1 989.5 780.6 987.4 780.3 985.3 C779.9 983.1 779.7 981.0 779.4 978.8 C779.2 976.6 779.1 974.4 779.0 972.2 C778.9 970.0 778.9 967.8 778.9 965.6 C778.9 963.3 779.0 961.1 779.1 958.9 C779.2 956.6 779.4 954.4 779.6 952.1 C779.8 949.9 780.0 947.7 780.3 945.4 C780.5 943.2 780.8 941.0 781.1 938.8 C781.5 936.5 781.8 934.3 782.2 932.1 C782.6 929.9 783.0 927.7 783.4 925.5 C783.9 923.3 784.4 921.1 784.8 918.9 C785.3 916.7 785.8 914.6 786.4 912.4 C786.9 910.2 787.5 908.0 788.1 905.9 C788.6 903.7 789.2 901.5 789.9 899.4 C790.5 897.2 791.4 894.0 791.8 892.9" fill="none" stroke="#000" stroke-width="2.8" stroke-linejoin="round" stroke-linecap="round"/></g>
<path d="M779.9 530.0 C780.3 530.9 781.4 533.6 782.1 535.4 C782.9 537.3 783.6 539.1 784.3 540.9 C785.0 542.7 785.8 544.5 786.5 546.3 C787.3 548.1 788.1 549.9 788.8 551.7 C789.6 553.5 790.4 555.3 791.2 557.1 C792.0 558.9 792.8 560.7 793.7 562.4 C794.5 564.2 795.3 566.0 796.2 567.8 C797.1 569.5 797.9 571.3 798.8 573.1 C799.7 574.8 800.6 576.6 801.6 578.3 C802.5 580.0 803.4 581.8 804.4 583.5 C805.3 585.2 806.3 586.9 807.3 588.6 C808.3 590.3 809.3 592.0 810.3 593.7 C811.3 595.4 812.3 597.0 813.4 598.7 C814.5 600.3 815.5 602.0 816.6 603.6 C817.7 605.2 818.8 606.8 820.0 608.4 C821.1 610.0 822.3 611.6 823.4 613.2 C824.6 614.8 825.8 616.3 827.0 617.8 C828.2 619.4 829.5 620.9 830.7 622.4 C832.0 623.9 833.3 625.4 834.6 626.8 C835.9 628.3 837.2 629.7 838.5 631.1 C839.9 632.5 841.2 633.9 842.6 635.3 C844.0 636.7 845.4 638.0 846.9 639.4 C848.3 640.7 849.8 642.0 851.3 643.3 C852.8 644.6 854.3 645.8 855.8 647.1 C857.4 648.3 858.9 649.6 860.5 650.7 C862.1 651.9 864.6 653.5 865.4 654.0L869.7 645.7 C870.4 644.3 872.2 640.2 873.6 637.4 C874.9 634.6 876.2 631.8 877.6 629.0 C878.9 626.3 880.4 623.5 881.8 620.7 C883.2 617.9 884.7 615.1 886.2 612.4 C887.7 609.6 889.2 606.9 890.8 604.1 C892.4 601.4 894.0 598.7 895.6 596.0 C897.3 593.3 899.0 590.6 900.7 587.9 C902.4 585.2 904.1 582.6 905.9 580.0 C907.7 577.4 909.5 574.8 911.4 572.2 C913.2 569.7 915.1 567.1 917.1 564.6 C919.0 562.2 920.9 559.7 923.0 557.3 C925.0 554.9 927.0 552.5 929.1 550.1 C931.2 547.8 933.3 545.5 935.4 543.3 C937.6 541.0 939.8 538.8 942.0 536.7 C944.3 534.5 946.5 532.4 948.9 530.4 C951.2 528.4 953.5 526.4 955.9 524.5 C958.3 522.5 960.8 520.7 963.2 518.8 C965.7 517.0 968.2 515.2 970.8 513.5 C973.3 511.8 975.9 510.1 978.5 508.5 C981.1 506.9 983.7 505.3 986.4 503.8 C989.1 502.2 991.8 500.7 994.5 499.3 C997.2 497.8 1000.0 496.4 1002.7 495.0 C1005.5 493.7 1008.3 492.3 1011.1 491.0 C1013.9 489.7 1016.8 488.5 1019.7 487.3 C1022.5 486.0 1025.4 484.8 1028.3 483.7 C1031.2 482.5 1034.1 481.4 1037.1 480.2 C1040.0 479.1 1042.9 478.1 1045.9 477.0 C1048.9 476.0 1051.8 474.9 1054.8 473.9 C1057.8 472.9 1060.8 471.9 1063.8 471.0 C1066.8 470.0 1069.8 469.1 1072.9 468.1 C1075.9 467.2 1078.9 466.3 1081.9 465.4 C1085.0 464.5 1088.0 463.6 1091.0 462.8 C1094.1 461.9 1097.1 461.0 1100.1 460.2 C1103.2 459.3 1106.2 458.5 1109.3 457.7 C1112.3 456.9 1115.3 456.1 1118.4 455.3 C1121.4 454.5 1124.5 453.8 1127.5 453.0 C1130.6 452.2 1133.6 451.5 1136.7 450.8 C1139.7 450.1 1142.8 449.4 1145.8 448.7 C1148.9 448.0 1152.0 447.3 1155.0 446.7 C1158.1 446.0 1161.1 445.4 1164.2 444.8 C1167.3 444.2 1170.3 443.6 1173.4 443.0 C1176.5 442.4 1179.6 441.9 1182.6 441.4 C1185.7 440.8 1188.8 440.3 1191.9 439.8 C1194.9 439.3 1198.0 438.9 1201.1 438.4 C1204.2 438.0 1207.3 437.6 1210.3 437.2 C1213.4 436.8 1216.5 436.4 1219.6 436.1 C1222.7 435.7 1225.8 435.4 1228.9 435.1 C1232.0 434.8 1235.1 434.5 1238.2 434.3 C1241.3 434.1 1244.4 433.8 1247.5 433.7 C1250.6 433.5 1253.7 433.3 1256.8 433.2 C1259.9 433.0 1263.0 432.9 1266.1 432.9 C1269.2 432.8 1272.3 432.7 1275.5 432.7 C1278.6 432.7 1281.7 432.7 1284.8 432.7 C1287.9 432.8 1291.1 432.9 1294.2 433.0 C1297.3 433.1 1300.4 433.2 1303.6 433.4 C1306.7 433.6 1309.8 433.8 1313.0 434.0 C1316.1 434.2 1319.2 434.5 1322.4 434.8 C1325.5 435.1 1328.7 435.4 1331.8 435.8 C1334.9 436.2 1338.1 436.6 1341.2 437.2 C1344.3 437.7 1347.3 438.3 1350.3 439.1 C1353.3 439.9 1356.2 440.7 1359.0 441.8 C1361.8 442.9 1364.6 444.2 1367.2 445.7 C1369.7 447.2 1372.2 448.8 1374.5 450.8 C1376.8 452.8 1379.0 455.1 1381.0 457.6 C1383.0 460.0 1384.8 462.8 1386.4 465.6 C1388.0 468.5 1389.5 471.6 1390.7 474.6 C1392.0 477.7 1393.0 481.0 1393.9 484.1 C1394.8 487.1 1395.7 491.5 1396.0 493.0L1396.0 493.0 C1395.2 491.8 1392.6 488.4 1391.0 485.7 C1389.4 483.0 1387.9 479.9 1386.3 477.0 C1384.7 474.0 1383.2 471.0 1381.4 468.2 C1379.6 465.4 1377.8 462.6 1375.8 460.2 C1373.8 457.8 1371.6 455.7 1369.2 453.8 C1366.9 452.0 1364.3 450.5 1361.7 449.2 C1359.0 447.9 1356.2 446.8 1353.3 445.9 C1350.5 445.0 1347.5 444.4 1344.4 443.8 C1341.4 443.2 1338.3 442.8 1335.2 442.4 C1332.1 442.0 1329.0 441.8 1325.8 441.5 C1322.7 441.3 1319.6 441.0 1316.5 440.9 C1313.4 440.7 1310.3 440.6 1307.1 440.4 C1304.0 440.3 1300.9 440.3 1297.8 440.2 C1294.7 440.2 1291.6 440.2 1288.5 440.2 C1285.4 440.3 1282.4 440.3 1279.3 440.4 C1276.2 440.5 1273.1 440.6 1270.0 440.8 C1266.9 441.0 1263.9 441.1 1260.8 441.4 C1257.7 441.6 1254.7 441.8 1251.6 442.1 C1248.5 442.4 1245.5 442.7 1242.4 443.0 C1239.3 443.3 1236.3 443.7 1233.2 444.1 C1230.2 444.4 1227.1 444.8 1224.0 445.3 C1221.0 445.7 1217.9 446.2 1214.9 446.6 C1211.8 447.1 1208.8 447.6 1205.7 448.1 C1202.7 448.6 1199.7 449.2 1196.6 449.7 C1193.6 450.3 1190.5 450.9 1187.5 451.5 C1184.4 452.1 1181.4 452.7 1178.4 453.3 C1175.3 454.0 1172.3 454.6 1169.2 455.3 C1166.2 456.0 1163.2 456.7 1160.1 457.4 C1157.1 458.1 1154.1 458.8 1151.0 459.5 C1148.0 460.2 1144.9 461.0 1141.9 461.7 C1138.9 462.5 1135.8 463.3 1132.8 464.1 C1129.8 464.8 1126.7 465.6 1123.7 466.4 C1120.6 467.2 1117.6 468.0 1114.6 468.9 C1111.5 469.7 1108.5 470.5 1105.4 471.4 C1102.4 472.2 1099.4 473.1 1096.3 473.9 C1093.3 474.8 1090.3 475.7 1087.3 476.6 C1084.2 477.5 1081.2 478.4 1078.2 479.4 C1075.2 480.3 1072.2 481.3 1069.2 482.3 C1066.3 483.3 1063.3 484.3 1060.3 485.3 C1057.4 486.3 1054.4 487.4 1051.5 488.5 C1048.6 489.6 1045.7 490.7 1042.8 491.8 C1039.9 493.0 1037.0 494.2 1034.1 495.4 C1031.3 496.6 1028.4 497.8 1025.6 499.1 C1022.8 500.4 1020.0 501.7 1017.3 503.1 C1014.5 504.4 1011.8 505.8 1009.1 507.3 C1006.4 508.7 1003.7 510.2 1001.0 511.7 C998.4 513.2 995.8 514.8 993.2 516.4 C990.6 518.0 988.0 519.7 985.5 521.4 C983.0 523.1 980.5 524.9 978.1 526.7 C975.6 528.5 973.2 530.4 970.9 532.3 C968.5 534.3 966.2 536.2 963.9 538.3 C961.6 540.3 959.3 542.4 957.1 544.5 C954.9 546.7 952.7 548.9 950.6 551.1 C948.5 553.3 946.4 555.6 944.3 557.9 C942.3 560.2 940.2 562.6 938.3 565.0 C936.3 567.4 934.3 569.8 932.4 572.3 C930.5 574.8 928.6 577.3 926.8 579.8 C924.9 582.4 923.1 584.9 921.3 587.5 C919.5 590.1 917.8 592.7 916.1 595.4 C914.4 598.0 912.7 600.7 911.0 603.4 C909.4 606.1 907.8 608.8 906.2 611.5 C904.6 614.2 903.0 617.0 901.5 619.7 C900.0 622.4 898.5 625.2 897.0 628.0 C895.5 630.7 894.1 633.5 892.6 636.3 C891.2 639.1 889.8 641.9 888.5 644.6 C887.1 647.4 885.8 650.2 884.4 653.0 C883.1 655.8 881.8 658.5 880.6 661.3 C879.3 664.1 878.1 666.8 876.9 669.6 C875.6 672.4 873.7 676.7 873.1 678.1L873.1 678.1 C872.2 677.5 869.3 675.7 867.5 674.5 C865.6 673.3 863.9 672.0 862.1 670.7 C860.3 669.4 858.5 668.1 856.7 666.8 C855.0 665.4 853.2 664.1 851.5 662.7 C849.8 661.3 848.1 659.9 846.4 658.4 C844.7 657.0 843.0 655.5 841.3 654.1 C839.7 652.6 838.0 651.1 836.4 649.5 C834.8 648.0 833.2 646.4 831.6 644.9 C830.0 643.3 828.4 641.7 826.9 640.1 C825.4 638.5 823.8 636.8 822.3 635.2 C820.8 633.5 819.4 631.8 817.9 630.1 C816.5 628.4 815.1 626.7 813.7 624.9 C812.3 623.2 810.9 621.4 809.6 619.6 C808.2 617.9 806.9 616.1 805.6 614.2 C804.3 612.4 803.1 610.6 801.8 608.7 C800.6 606.9 799.4 605.0 798.2 603.1 C797.1 601.2 795.9 599.3 794.8 597.4 C793.7 595.4 792.7 593.5 791.6 591.5 C790.6 589.6 789.6 587.6 788.6 585.6 C787.6 583.6 786.7 581.6 785.8 579.6 C784.9 577.5 784.0 575.5 783.2 573.4 C782.4 571.4 781.6 569.3 780.8 567.2 C780.1 565.1 779.3 563.0 778.7 560.9 C778.0 558.8 777.3 556.7 776.7 554.6 C776.2 552.4 775.6 550.3 775.1 548.1 C774.6 545.9 774.1 542.6 773.9 541.5Z" fill="url(#stripefade)"/>
<path d="M1398.6 515.0 C1398.8 517.5 1399.6 525.1 1399.8 530.0 C1400.0 534.9 1399.8 540.3 1399.8 544.4 C1399.8 548.5 1399.8 551.1 1399.9 554.5 C1400.0 557.9 1400.2 561.3 1400.3 564.7 C1400.3 568.1 1400.3 571.5 1400.3 574.9 C1400.2 578.3 1400.2 581.6 1400.0 585.0 C1399.9 588.4 1399.7 591.7 1399.5 595.1 C1399.2 598.4 1399.0 601.8 1398.6 605.1 C1398.3 608.4 1398.0 611.8 1397.5 615.1 C1397.1 618.4 1396.7 621.7 1396.2 625.0 C1395.7 628.3 1395.2 631.6 1394.6 634.9 C1394.1 638.2 1393.4 641.5 1392.8 644.8 C1392.2 648.1 1391.5 651.3 1390.8 654.6 C1390.1 657.9 1389.3 661.1 1388.5 664.4 C1387.7 667.6 1386.9 670.8 1386.1 674.1 C1385.2 677.3 1384.4 680.5 1383.5 683.8 C1382.6 687.0 1381.6 690.2 1380.7 693.4 C1379.7 696.6 1378.7 699.8 1377.7 703.0 C1376.7 706.2 1375.7 709.4 1374.6 712.6 C1373.5 715.8 1372.5 719.0 1371.4 722.1 C1370.3 725.3 1369.1 728.5 1368.0 731.7 C1366.9 734.8 1365.7 738.0 1364.5 741.1 C1363.4 744.3 1362.2 747.4 1361.0 750.6 C1359.8 753.7 1358.6 756.9 1357.3 760.0 C1356.1 763.2 1354.9 766.3 1353.6 769.4 C1352.3 772.5 1351.0 775.6 1349.7 778.7 C1348.4 781.8 1347.1 784.9 1345.7 788.0 C1344.3 791.1 1342.9 794.2 1341.5 797.2 C1340.1 800.3 1338.6 803.3 1337.1 806.3 C1335.6 809.3 1334.1 812.3 1332.6 815.3 C1331.0 818.3 1329.4 821.3 1327.8 824.2 C1326.1 827.2 1324.5 830.1 1322.8 833.0 C1321.0 835.9 1319.3 838.8 1317.5 841.6 C1315.7 844.5 1313.9 847.3 1312.1 850.1 C1310.2 852.9 1308.3 855.7 1306.3 858.4 C1304.4 861.1 1302.4 863.8 1300.4 866.5 C1298.4 869.1 1296.3 871.8 1294.2 874.4 C1292.1 876.9 1289.9 879.5 1287.7 882.0 C1285.5 884.5 1283.3 887.0 1281.0 889.4 C1278.7 891.8 1276.4 894.2 1274.0 896.5 C1271.6 898.9 1269.2 901.1 1266.7 903.4 C1264.3 905.6 1261.8 907.8 1259.2 909.9 C1256.6 912.1 1254.0 914.1 1251.4 916.2 C1248.7 918.2 1246.0 920.2 1243.2 922.1 C1240.5 924.0 1237.7 925.8 1234.8 927.6 C1231.9 929.4 1229.0 931.2 1226.1 932.8 C1223.1 934.5 1220.1 936.1 1217.0 937.6 C1214.0 939.2 1210.8 940.7 1207.7 942.0 C1204.6 943.4 1208.0 943.2 1198.4 945.9 C1188.8 948.6 1159.3 955.7 1149.8 958.3 C1140.3 960.9 1144.1 960.5 1141.1 961.6 C1138.2 962.6 1135.2 963.7 1132.2 964.7 C1129.2 965.7 1126.3 966.7 1123.3 967.7 C1120.3 968.7 1117.3 969.6 1114.4 970.6 C1111.4 971.5 1108.4 972.4 1105.5 973.3 C1102.5 974.2 1099.5 975.1 1096.6 975.9 C1093.6 976.8 1090.6 977.7 1087.6 978.5 C1084.7 979.3 1081.7 980.1 1078.7 980.9 C1075.8 981.8 1072.8 982.5 1069.8 983.3 C1066.8 984.1 1063.9 984.9 1060.9 985.6 C1057.9 986.4 1054.9 987.1 1051.9 987.9 C1049.0 988.6 1046.0 989.3 1043.0 990.1 C1040.0 990.8 1037.0 991.5 1034.0 992.2 C1031.0 992.9 1028.0 993.6 1025.0 994.3 C1022.0 995.0 1019.0 995.7 1016.0 996.4 C1013.0 997.1 1010.0 997.8 1007.0 998.5 C1004.0 999.2 1001.0 999.9 998.0 1000.5 C994.9 1001.2 991.9 1001.9 988.9 1002.6 C985.9 1003.3 982.8 1004.0 979.8 1004.7 C976.7 1005.4 973.7 1006.1 970.6 1006.8 C967.6 1007.5 964.5 1008.2 961.5 1008.9 C958.4 1009.6 955.4 1010.3 952.3 1011.0 C949.2 1011.8 946.1 1012.5 943.1 1013.2 C940.0 1013.9 936.9 1014.6 933.8 1015.3 C930.7 1016.0 927.6 1016.7 924.5 1017.4 C921.4 1018.1 918.4 1018.7 915.3 1019.3 C912.2 1020.0 909.1 1020.6 906.0 1021.2 C902.9 1021.7 899.8 1022.3 896.7 1022.8 C893.6 1023.3 890.5 1023.8 887.4 1024.3 C884.4 1024.7 879.7 1025.2 878.2 1025.4" fill="none" stroke="#000" stroke-width="4.4" stroke-linecap="round"/>
<path d="M876 148 V266" fill="none" stroke="#000" stroke-width="4.0"/>
<g clip-path="url(#latchclip)">
<rect x="790" y="262" width="180" height="180" fill="#3b3e41"/>
<rect x="790" y="262" width="180" height="180" filter="url(#grain)" opacity="0.42"/>
<path d="M790 262 H970 V340 C 962 341 958 344 955 348 C 951 353 946 354 941 351 L 936 346 L 905 340 C 880 343 850 345 826 348 L 790 346Z" fill="#15171a"/>
<path d="M790 262 H970 V303 L790 311Z" fill="#1e2023"/>
<path d="M790 262 H970 V277.5 H790Z" fill="#6f7174"/>
<path d="M834 291.5 L938 290" stroke="#34363a" stroke-width="1.4" stroke-dasharray="3 1.5" fill="none"/>
<path d="M812 302.3 L952 300" stroke="#3e4144" stroke-width="1.6" fill="none"/>
<path d="M804 309.3 L950 306.3" stroke="#4d5053" stroke-width="2" fill="none"/>
<path d="M819.9 356.4 C820.3 354.8 821.2 352.4 823.0 351.0 C824.8 349.6 824.3 348.9 830.5 347.7 C836.7 346.4 848.2 345.0 860.0 343.5 C871.8 342.0 892.4 340.5 901.0 338.7 C909.6 336.9 908.8 334.1 911.6 332.8 C914.4 331.5 915.9 331.0 918.0 330.6 C920.1 330.2 922.0 330.1 924.0 330.6 C926.0 331.1 928.4 332.1 930.0 333.5 C931.6 334.9 932.7 336.4 933.7 338.7 C934.8 341.0 936.0 344.9 936.3 347.5 C936.6 350.1 936.0 352.0 935.5 354.0 C935.0 356.0 934.2 357.8 933.0 359.5 C931.8 361.2 929.8 362.9 928.0 364.0 C926.2 365.1 924.9 366.0 922.2 366.3 C919.5 366.6 915.5 366.1 912.0 365.6 C908.5 365.2 908.0 363.9 901.0 363.6 C894.0 363.3 881.2 363.7 870.0 363.8 C858.8 363.9 841.3 364.6 834.0 364.5 C826.7 364.4 828.2 364.2 826.0 363.5 C823.8 362.8 821.8 361.5 820.8 360.3 C819.8 359.1 819.5 357.9 819.9 356.4Z" fill="#3e4144" stroke="#5d6063" stroke-width="1.8"/>
</g>
<circle cx="878.7" cy="350.4" r="84.1" fill="none" stroke="#000" stroke-width="4.3"/>
<circle cx="1061.3" cy="415.7" r="44.8" fill="#fff"/>
<g clip-path="url(#keyclip)"><path d="M1000 428.4 L1120 412.2 V470 H1000Z" fill="#1b1b1d"/></g>
<rect x="1043" y="379.5" width="34" height="33.5" rx="5.5" fill="#5b5769"/>
<rect x="1050" y="385.5" width="20.5" height="8" rx="2.5" fill="#fff"/>
<rect x="1050.8" y="397" width="18" height="13" rx="1" fill="#372f49"/>
<path d="M1053 412 H1066.5 V420 L1068 423 L1066.5 426 L1067 437 H1055 V428 L1053 426 L1054.5 422 L1053 419Z" fill="#a09dab"/>
<path d="M1060.5 413 V437" stroke="#6f6b7c" stroke-width="1.5"/>
<path d="M1040.4 445.2 C1041 442.5 1046 441 1050 439.2 C1053 437.6 1057 436.6 1062 436.6 C1067 436.6 1070 437.8 1073 439.4 C1077 441 1082.5 442 1083.3 445 C1083.3 446.6 1082 447 1078 447 H1046 C1042 447 1040.4 446.6 1040.4 445.2Z" fill="#dddddd"/>
<circle cx="1061.3" cy="415.7" r="44.8" fill="none" stroke="#000" stroke-width="3.6"/>
<clipPath id="keybag"><path d="M1000 428.4 L1120 412.2 V470 H1000Z"/></clipPath>
<g clip-path="url(#keybag)"><circle cx="1061.3" cy="415.7" r="44.8" fill="none" stroke="#fff" stroke-width="3.8"/></g>
<path d="M1685 328 V419.9" fill="none" stroke="#000" stroke-width="4.0"/>
<path d="M1224 417.9 H1687" fill="none" stroke="#000" stroke-width="4.0"/>
<path d="M1107.5 418 H1224" fill="none" stroke="#fff" stroke-width="4.2"/>
<path d="M568 482 H900" fill="none" stroke="#000" stroke-width="4.2"/>
<g clip-path="url(#bagclip)">
<path d="M780 482 H991.7" fill="none" stroke="#fff" stroke-width="4.3"/>
</g>
<path d="M989.5 480 V582" fill="none" stroke="#fff" stroke-width="4.4"/>
<circle cx="989.5" cy="508.9" r="11" fill="none" stroke="#fff" stroke-width="4.2"/>
<circle cx="989.2" cy="597.5" r="15.6" fill="none" stroke="#fff" stroke-width="4.2"/>
<path d="M384 932.5 V797.9" fill="none" stroke="#000" stroke-width="4.0"/>
<path d="M382 799.9 H700" fill="none" stroke="#000" stroke-width="4.2"/>
<g clip-path="url(#bagclip)">
<path d="M640 799.9 H717" fill="none" stroke="#fff" stroke-width="4.3"/>
</g>
<circle cx="730.8" cy="799.8" r="14.5" fill="none" stroke="#fff" stroke-width="4.2"/>
<circle cx="1143.4" cy="720.4" r="14.2" fill="none" stroke="#fff" stroke-width="4.2"/>
<path d="M1300 720.9 H1608" fill="none" stroke="#000" stroke-width="4.2"/>
<g clip-path="url(#bagclip)">
<path d="M1157 720.9 H1400" fill="none" stroke="#fff" stroke-width="4.3"/>
</g>
<path d="M1606 719 V824.5" fill="none" stroke="#000" stroke-width="4.0"/>
<text x="649.70" y="134.9" font-family="'Liberation Sans', sans-serif" font-weight="bold" font-size="43.0" textLength="446.6" lengthAdjust="spacingAndGlyphs" fill="#000" stroke="#000" stroke-width="1.5" stroke-linejoin="round">QUICK RELEASE LATCH</text>
<text x="1521.15" y="315.1" font-family="'Liberation Sans', sans-serif" font-weight="bold" font-size="43.0" textLength="295.6" lengthAdjust="spacingAndGlyphs" fill="#000" stroke="#000" stroke-width="1.5" stroke-linejoin="round">KEY LOCKABLE</text>
<text x="321.15" y="468.9" font-family="'Liberation Sans', sans-serif" font-weight="bold" font-size="43.0" textLength="250.6" lengthAdjust="spacingAndGlyphs" fill="#000" stroke="#000" stroke-width="1.5" stroke-linejoin="round">HARD SHELL</text>
<text x="322.15" y="519.4" font-family="'Liberation Sans', sans-serif" font-weight="bold" font-size="43.0" textLength="215.2" lengthAdjust="spacingAndGlyphs" fill="#000" stroke="#000" stroke-width="1.5" stroke-linejoin="round">LID &amp; BODY</text>
<text x="184.90" y="983.6" font-family="'Liberation Sans', sans-serif" font-weight="bold" font-size="43.0" textLength="419.9" lengthAdjust="spacingAndGlyphs" fill="#000" stroke="#000" stroke-width="1.5" stroke-linejoin="round">WEATHER RESISTANT</text>
<text x="1409.15" y="867.1" font-family="'Liberation Sans', sans-serif" font-weight="bold" font-size="43.0" textLength="432.6" lengthAdjust="spacingAndGlyphs" fill="#000" stroke="#000" stroke-width="1.5" stroke-linejoin="round">INTERNAL ORGANIZER</text>
<text x="778.00" y="1187.7" font-family="'Liberation Sans', sans-serif" font-weight="bold" font-size="65" textLength="487.6" lengthAdjust="spacingAndGlyphs" fill="#000">Engineering Excellence</text>
</svg>
</body></html>
